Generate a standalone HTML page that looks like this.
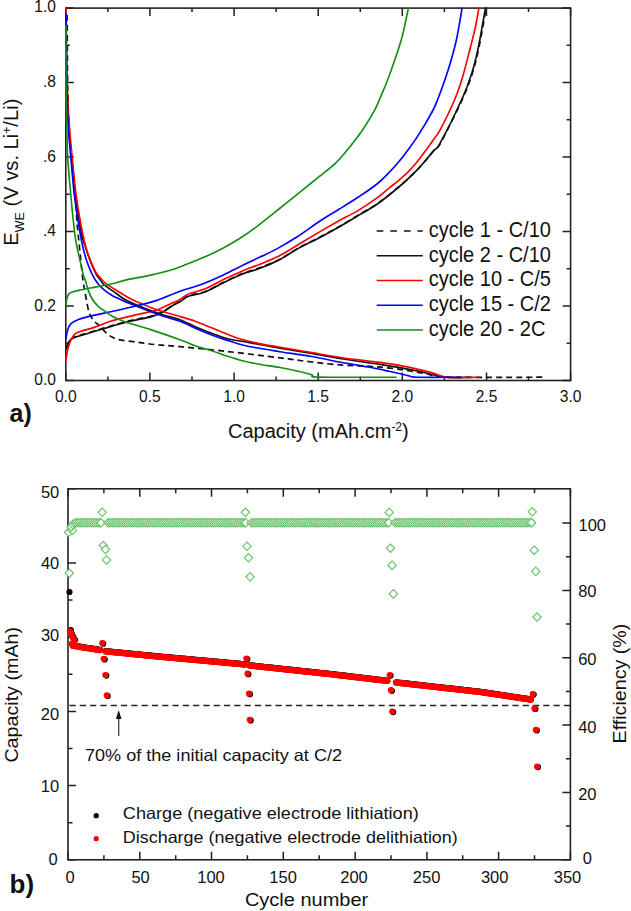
<!DOCTYPE html>
<html><head><meta charset="utf-8"><style>
html,body{margin:0;padding:0;background:#fff;}
body{width:631px;height:911px;overflow:hidden;font-family:"Liberation Sans",sans-serif;}
svg{display:block;}
</style></head><body>
<svg width="631" height="911" viewBox="0 0 631 911">
<rect x="65.8" y="8.1" width="504.8" height="372.4" fill="none" stroke="#222" stroke-width="1.6"/>
<path d="M65.8,8.1 v8 M65.8,380.5 v-8 M107.9,8.1 v4 M107.9,380.5 v-4 M149.9,8.1 v8 M149.9,380.5 v-8 M192.0,8.1 v4 M192.0,380.5 v-4 M234.1,8.1 v8 M234.1,380.5 v-8 M276.1,8.1 v4 M276.1,380.5 v-4 M318.2,8.1 v8 M318.2,380.5 v-8 M360.3,8.1 v4 M360.3,380.5 v-4 M402.3,8.1 v8 M402.3,380.5 v-8 M444.4,8.1 v4 M444.4,380.5 v-4 M486.5,8.1 v8 M486.5,380.5 v-8 M528.5,8.1 v4 M528.5,380.5 v-4 M570.6,8.1 v8 M570.6,380.5 v-8 M65.8,380.5 h8 M570.6,380.5 h-8 M65.8,343.3 h4 M570.6,343.3 h-4 M65.8,306.0 h8 M570.6,306.0 h-8 M65.8,268.8 h4 M570.6,268.8 h-4 M65.8,231.5 h8 M570.6,231.5 h-8 M65.8,194.3 h4 M570.6,194.3 h-4 M65.8,157.1 h8 M570.6,157.1 h-8 M65.8,119.8 h4 M570.6,119.8 h-4 M65.8,82.6 h8 M570.6,82.6 h-8 M65.8,45.3 h4 M570.6,45.3 h-4 M65.8,8.1 h8 M570.6,8.1 h-8" stroke="#222" stroke-width="1.5" fill="none"/>
<rect x="68.0" y="488.8" width="502.4" height="370.99999999999994" fill="none" stroke="#222" stroke-width="1.6"/>
<path d="M68.0,488.8 v8 M68.0,859.8 v-8 M103.9,488.8 v4.5 M103.9,859.8 v-4.5 M139.8,488.8 v8 M139.8,859.8 v-8 M175.7,488.8 v4.5 M175.7,859.8 v-4.5 M211.5,488.8 v8 M211.5,859.8 v-8 M247.4,488.8 v4.5 M247.4,859.8 v-4.5 M283.3,488.8 v8 M283.3,859.8 v-8 M319.2,488.8 v4.5 M319.2,859.8 v-4.5 M355.1,488.8 v8 M355.1,859.8 v-8 M391.0,488.8 v4.5 M391.0,859.8 v-4.5 M426.9,488.8 v8 M426.9,859.8 v-8 M462.7,488.8 v4.5 M462.7,859.8 v-4.5 M498.6,488.8 v8 M498.6,859.8 v-8 M534.5,488.8 v4.5 M534.5,859.8 v-4.5 M570.4,488.8 v8 M570.4,859.8 v-8 M68.0,859.8 h8 M68.0,822.7 h4.5 M68.0,785.6 h8 M68.0,748.5 h4.5 M68.0,711.4 h8 M68.0,674.3 h4.5 M68.0,637.2 h8 M68.0,600.1 h4.5 M68.0,563.0 h8 M68.0,525.9 h4.5 M68.0,488.8 h8 M570.4,859.8 h-8 M570.4,826.1 h-4.5 M570.4,792.4 h-8 M570.4,758.8 h-4.5 M570.4,725.1 h-8 M570.4,691.4 h-4.5 M570.4,657.7 h-8 M570.4,624.0 h-4.5 M570.4,590.4 h-8 M570.4,556.7 h-4.5 M570.4,523.0 h-8" stroke="#222" stroke-width="1.5" fill="none"/>
<path d="M67.2,15.0 C67.2,22.5 67.3,45.8 67.4,60.0 C67.5,74.2 67.7,88.3 68.0,100.0 C68.3,111.7 68.5,120.5 69.2,130.0 C69.9,139.5 71.0,146.2 72.0,157.0 C73.0,167.8 74.7,184.5 75.5,195.0 C76.3,205.5 76.4,213.7 76.8,220.0 C77.2,226.3 77.6,228.5 78.0,232.7 C78.4,236.9 78.9,241.2 79.3,245.4 C79.7,249.6 80.0,252.1 80.6,258.0 C81.2,263.9 82.2,274.6 83.1,280.9 C83.9,287.2 84.7,290.9 85.7,296.0 C86.7,301.1 87.6,307.7 88.9,311.8 C90.2,315.9 91.9,318.2 93.8,320.6 C95.7,323.1 98.4,324.5 100.4,326.5 C102.4,328.5 104.0,330.9 105.9,332.6 C107.8,334.4 109.8,335.8 112.0,337.0 C114.2,338.2 114.7,338.8 119.0,339.7 C123.3,340.6 131.7,341.4 138.0,342.3 C144.3,343.2 150.0,344.1 157.0,344.8 C164.0,345.5 168.2,345.6 180.0,346.7 C191.8,347.8 210.8,349.6 227.5,351.5 C244.2,353.4 266.0,356.1 280.0,357.8 C294.0,359.6 301.1,360.8 311.7,362.0 C322.3,363.2 333.7,364.5 343.4,365.2 C353.1,365.9 360.8,365.6 370.0,366.3 C379.2,367.0 389.0,367.9 398.5,369.2 C408.0,370.5 419.1,372.7 427.0,374.0 C434.9,375.3 426.3,376.7 446.0,377.2 C465.7,377.7 528.8,377.2 545.4,377.2" fill="none" stroke="#111111" stroke-width="1.7" stroke-linejoin="round" stroke-dasharray="6,4"/>
<path d="M66.8,348.7 C67.2,347.4 68.2,343.1 69.4,341.2 C70.6,339.3 72.2,338.1 73.8,337.2 C75.4,336.2 76.5,336.3 79.2,335.5 C81.9,334.7 86.6,333.3 90.2,332.2 C93.8,331.1 97.0,330.1 100.8,329.0 C104.6,327.9 107.5,326.9 112.8,325.4 C118.1,323.9 126.0,321.6 132.5,320.1 C138.9,318.5 146.4,317.5 151.5,316.1 C156.6,314.7 159.2,313.5 162.8,311.7 C166.4,309.9 169.8,307.0 172.8,305.2 C175.8,303.4 178.1,302.5 180.8,300.9 C183.6,299.3 185.2,297.1 189.3,295.5 C193.4,293.9 199.4,293.8 205.2,291.5 C211.0,289.2 217.9,285.0 224.2,282.0 C230.5,279.0 237.1,275.7 243.2,273.3 C249.3,270.9 254.7,269.8 260.8,267.4 C266.9,265.0 273.5,262.5 279.8,259.2 C286.1,255.9 292.0,251.6 298.8,247.8 C305.6,244.0 314.0,240.2 320.8,236.6 C327.6,233.0 333.5,229.8 339.8,226.2 C346.1,222.6 352.5,218.6 358.8,214.8 C365.1,211.0 370.8,208.3 377.8,203.4 C384.8,198.5 394.2,190.8 400.8,185.2 C407.4,179.6 413.0,174.0 417.2,169.8 C421.4,165.6 423.0,163.6 425.9,160.2 C428.8,156.8 432.2,152.5 434.7,149.6 C437.2,146.7 436.2,151.0 440.8,142.6 C445.4,134.2 457.1,111.0 462.4,99.2 C467.7,87.5 469.9,80.9 472.7,72.1 C475.5,63.4 476.8,57.6 479.1,46.7 C481.4,35.8 485.1,13.5 486.3,6.8" fill="none" stroke="#111111" stroke-width="1.7" stroke-linejoin="round" stroke-dasharray="6,4"/>
<path d="M66.2,8.0 C66.2,13.3 66.2,28.0 66.3,40.0 C66.4,52.0 66.6,68.3 66.9,80.0 C67.2,91.7 67.7,101.7 68.0,110.0 C68.3,118.3 68.4,122.2 69.0,130.0 C69.6,137.8 70.4,146.2 71.5,157.0 C72.6,167.8 73.9,182.4 75.5,195.0 C77.1,207.6 79.6,224.3 81.2,232.7 C82.8,241.1 83.5,240.8 85.0,245.4 C86.5,250.1 88.2,255.8 90.1,260.6 C92.0,265.5 94.8,271.4 96.4,274.5 C98.1,277.6 98.7,277.8 100.0,279.5 C101.3,281.2 101.9,282.8 104.0,284.7 C106.1,286.6 109.1,288.4 112.7,290.9 C116.3,293.4 121.2,297.4 125.4,299.8 C129.6,302.2 133.8,303.7 138.0,305.5 C142.2,307.3 146.5,309.0 150.7,310.6 C154.9,312.2 158.5,313.5 163.4,315.0 C168.3,316.5 174.6,317.8 180.0,319.8 C185.4,321.8 190.5,324.6 195.8,326.9 C201.1,329.1 206.4,331.3 211.7,333.3 C217.0,335.3 222.2,337.4 227.5,338.8 C232.8,340.2 238.1,340.6 243.4,341.5 C248.7,342.4 253.1,343.3 259.2,344.4 C265.3,345.5 271.2,346.8 280.0,348.3 C288.8,349.8 301.1,351.7 311.7,353.5 C322.3,355.3 332.0,357.2 343.4,359.0 C354.8,360.8 367.6,362.4 380.0,364.4 C392.4,366.4 406.7,368.9 417.5,371.0 C428.3,373.1 436.2,376.2 445.0,377.2 C453.8,378.2 465.8,377.2 470.0,377.2" fill="none" stroke="#111111" stroke-width="1.65" stroke-linejoin="round"/>
<path d="M66.0,349.5 C66.4,348.2 67.4,343.9 68.6,342.0 C69.8,340.1 71.4,338.9 73.0,338.0 C74.6,337.1 75.7,337.1 78.4,336.3 C81.1,335.5 85.8,334.1 89.4,333.0 C93.0,331.9 96.2,330.9 100.0,329.8 C103.8,328.7 106.7,327.7 112.0,326.2 C117.3,324.7 125.2,322.4 131.7,320.9 C138.1,319.3 145.6,318.3 150.7,316.9 C155.8,315.5 158.4,314.3 162.0,312.5 C165.6,310.7 169.0,307.8 172.0,306.0 C175.0,304.2 177.2,303.3 180.0,301.7 C182.8,300.1 184.4,297.9 188.5,296.3 C192.6,294.7 198.6,294.6 204.4,292.3 C210.2,290.1 217.1,285.8 223.4,282.8 C229.7,279.8 236.3,276.5 242.4,274.1 C248.5,271.7 253.9,270.6 260.0,268.2 C266.1,265.8 272.7,263.3 279.0,260.0 C285.3,256.7 291.2,252.4 298.0,248.6 C304.8,244.8 313.2,241.0 320.0,237.4 C326.8,233.8 332.7,230.6 339.0,227.0 C345.3,223.4 351.7,219.4 358.0,215.6 C364.3,211.8 370.0,209.1 377.0,204.2 C384.0,199.3 393.4,191.6 400.0,186.0 C406.6,180.4 412.2,174.8 416.4,170.6 C420.6,166.4 422.2,164.4 425.1,161.0 C428.0,157.6 431.4,153.3 433.9,150.4 C436.4,147.5 435.4,151.8 440.0,143.4 C444.6,135.0 456.3,111.8 461.6,100.0 C466.9,88.2 469.1,81.7 471.9,72.9 C474.7,64.2 476.0,58.4 478.3,47.5 C480.6,36.6 484.3,14.2 485.5,7.6" fill="none" stroke="#111111" stroke-width="1.65" stroke-linejoin="round"/>
<path d="M66.2,8.0 C66.2,13.3 66.2,28.0 66.3,40.0 C66.4,52.0 66.7,68.3 67.0,80.0 C67.3,91.7 67.8,101.7 68.3,110.0 C68.8,118.3 69.1,122.2 69.7,130.0 C70.3,137.8 71.0,146.1 72.1,156.9 C73.2,167.7 74.4,182.2 76.1,194.8 C77.8,207.4 80.7,223.5 82.5,232.7 C84.3,241.9 85.3,245.1 86.7,250.0 C88.1,254.9 89.6,258.2 91.1,261.9 C92.6,265.6 93.9,269.2 95.8,272.2 C97.7,275.2 100.2,278.0 102.2,280.1 C104.2,282.2 104.8,282.9 107.7,284.9 C110.6,286.9 115.9,289.9 119.6,292.2 C123.3,294.5 126.9,296.8 130.0,298.5 C133.1,300.2 134.6,300.8 138.0,302.3 C141.4,303.8 146.5,305.8 150.7,307.4 C154.9,309.0 158.5,310.3 163.4,311.8 C168.3,313.3 174.6,314.9 180.0,316.5 C185.4,318.1 190.5,319.6 195.8,321.5 C201.1,323.4 206.4,325.7 211.7,327.8 C217.0,329.9 222.8,332.3 227.5,334.2 C232.2,336.1 234.9,337.4 240.2,339.0 C245.5,340.6 252.6,342.2 259.2,343.6 C265.8,345.0 271.2,345.7 280.0,347.2 C288.8,348.7 301.1,350.7 311.7,352.5 C322.3,354.3 332.0,356.4 343.4,358.0 C354.8,359.6 369.1,360.9 380.0,362.4 C390.9,363.9 399.9,365.4 408.5,367.1 C417.1,368.8 424.9,370.9 431.3,372.6 C437.7,374.3 439.1,376.4 447.0,377.2 C454.9,378.0 473.2,377.2 478.4,377.2" fill="none" stroke="#ff0000" stroke-width="1.65" stroke-linejoin="round"/>
<path d="M65.8,361.1 C66.1,359.3 66.7,353.7 67.5,350.2 C68.3,346.7 69.5,343.1 70.8,340.3 C72.1,337.6 73.0,335.4 75.2,333.7 C77.4,332.0 80.6,331.5 83.9,330.4 C87.2,329.3 90.2,328.7 94.9,327.1 C99.6,325.5 104.8,322.9 112.0,320.8 C119.2,318.7 130.5,316.2 138.0,314.4 C145.5,312.6 151.7,311.7 157.0,310.0 C162.3,308.3 165.9,305.9 169.7,304.2 C173.5,302.4 176.9,301.2 180.0,299.5 C183.1,297.8 184.4,295.6 188.5,293.9 C192.6,292.2 198.6,291.5 204.4,289.1 C210.2,286.7 217.1,282.6 223.4,279.6 C229.7,276.6 236.3,273.5 242.4,270.9 C248.5,268.3 253.9,266.7 260.0,264.2 C266.1,261.7 272.7,259.4 279.0,256.1 C285.3,252.9 291.2,248.8 298.0,244.7 C304.8,240.6 313.2,235.6 320.0,231.6 C326.8,227.6 332.7,224.2 339.0,220.7 C345.3,217.2 351.7,214.4 358.0,210.6 C364.3,206.8 371.7,201.8 377.0,197.9 C382.3,194.0 386.4,190.2 390.0,187.3 C393.6,184.4 395.9,182.8 398.8,180.3 C401.7,177.8 404.7,175.3 407.6,172.4 C410.5,169.5 413.5,166.2 416.4,162.7 C419.3,159.2 422.2,155.2 425.1,151.3 C428.0,147.4 431.4,142.5 433.9,139.0 C436.4,135.5 436.6,136.7 440.0,130.2 C443.4,123.7 450.8,108.8 454.5,100.0 C458.2,91.2 460.0,85.4 462.4,77.7 C464.8,70.0 466.6,62.1 468.7,53.9 C470.8,45.7 473.4,36.2 475.1,28.5 C476.8,20.8 478.4,11.1 479.0,7.6" fill="none" stroke="#ff0000" stroke-width="1.65" stroke-linejoin="round"/>
<path d="M66.0,13.0 C66.0,17.5 66.0,28.8 66.1,40.0 C66.2,51.2 66.4,68.3 66.6,80.0 C66.8,91.7 67.2,101.7 67.5,110.0 C67.8,118.3 67.9,122.2 68.4,130.0 C69.0,137.8 69.8,146.1 70.8,156.9 C71.8,167.7 72.8,182.2 74.3,194.8 C75.8,207.4 78.5,223.5 80.0,232.7 C81.5,241.9 82.4,245.1 83.6,250.0 C84.8,254.9 85.7,257.9 87.1,261.9 C88.5,265.9 90.1,270.1 91.9,273.8 C93.8,277.5 96.2,281.5 98.2,284.1 C100.2,286.7 101.5,287.8 103.8,289.6 C106.0,291.5 109.1,293.6 111.7,295.2 C114.3,296.8 117.0,297.9 119.6,299.1 C122.1,300.3 123.9,301.2 127.0,302.5 C130.1,303.8 134.1,305.2 138.0,306.8 C141.9,308.4 146.5,310.2 150.7,311.8 C154.9,313.4 158.5,314.7 163.4,316.3 C168.3,317.9 174.6,319.3 180.0,321.3 C185.4,323.3 190.5,326.2 195.8,328.5 C201.1,330.8 206.4,332.9 211.7,334.9 C217.0,336.9 222.2,338.7 227.5,340.4 C232.8,342.1 238.1,343.9 243.4,345.2 C248.7,346.5 253.1,347.2 259.2,348.3 C265.3,349.4 271.2,350.3 280.0,351.7 C288.8,353.1 301.1,354.6 311.7,356.5 C322.3,358.4 333.7,361.0 343.4,362.8 C353.1,364.6 362.4,365.9 370.0,367.3 C377.6,368.7 382.7,369.9 389.0,371.3 C395.3,372.7 403.3,374.6 408.0,375.6 C412.7,376.6 408.1,376.9 417.0,377.2 C425.9,377.5 453.9,377.2 461.3,377.2" fill="none" stroke="#0000ff" stroke-width="1.65" stroke-linejoin="round"/>
<path d="M65.8,339.2 C66.1,337.7 66.7,332.9 67.5,330.4 C68.3,327.8 69.0,325.7 70.8,323.9 C72.6,322.1 74.4,321.0 78.4,319.5 C82.4,318.0 89.3,316.4 94.9,315.1 C100.5,313.8 104.8,313.1 112.0,311.5 C119.2,309.9 130.5,307.4 138.0,305.5 C145.5,303.6 150.0,302.8 157.0,300.4 C164.0,298.0 172.6,294.0 180.0,291.3 C187.4,288.6 194.0,287.1 201.2,284.4 C208.4,281.7 216.5,278.1 223.4,274.9 C230.3,271.7 236.3,268.4 242.4,265.4 C248.5,262.4 253.9,260.1 260.0,257.1 C266.1,254.1 272.7,251.1 279.0,247.6 C285.3,244.1 291.2,240.6 298.0,236.2 C304.8,231.8 313.2,225.5 320.0,221.0 C326.8,216.5 332.7,213.2 339.0,209.3 C345.3,205.4 351.7,201.5 358.0,197.3 C364.3,193.1 371.7,188.3 377.0,184.0 C382.3,179.7 386.4,175.2 390.0,171.5 C393.6,167.8 395.9,165.3 398.8,161.8 C401.7,158.3 404.7,154.4 407.6,150.4 C410.5,146.4 413.5,142.5 416.4,138.1 C419.3,133.7 422.3,128.8 425.1,124.1 C427.9,119.4 431.0,114.0 433.1,110.0 C435.2,106.0 435.8,104.3 437.5,100.0 C439.2,95.7 441.4,89.8 443.4,84.0 C445.4,78.2 447.6,72.1 449.7,65.0 C451.8,57.9 454.4,48.6 456.1,41.2 C457.8,33.8 459.0,26.2 460.0,20.6 C461.0,15.0 461.8,9.8 462.1,7.6" fill="none" stroke="#0000ff" stroke-width="1.65" stroke-linejoin="round"/>
<path d="M66.0,25.0 C66.0,34.2 65.9,65.8 66.0,80.0 C66.1,94.2 66.2,101.7 66.4,110.0 C66.6,118.3 66.7,122.2 66.9,130.0 C67.1,137.8 67.1,146.1 67.7,156.9 C68.3,167.7 69.9,184.3 70.8,194.8 C71.7,205.3 72.4,212.6 73.2,220.0 C74.0,227.4 74.5,232.7 75.5,239.0 C76.5,245.3 78.2,252.1 79.5,258.0 C80.8,263.9 82.2,270.8 83.2,274.5 C84.2,278.2 84.4,277.5 85.2,280.0 C86.0,282.5 86.8,286.4 88.0,289.6 C89.2,292.9 90.8,296.7 92.5,299.5 C94.2,302.3 96.0,304.2 98.2,306.3 C100.4,308.4 103.5,310.1 105.9,311.8 C108.3,313.5 109.5,314.8 112.7,316.5 C116.0,318.2 119.1,319.8 125.4,322.0 C131.7,324.2 141.6,326.7 150.7,329.6 C159.8,332.6 172.5,337.0 180.0,339.7 C187.5,342.4 190.5,344.2 195.8,346.0 C201.1,347.8 206.4,349.0 211.7,350.7 C217.0,352.4 222.2,354.6 227.5,356.3 C232.8,358.0 238.1,359.7 243.4,361.0 C248.7,362.3 253.1,363.1 259.2,364.2 C265.3,365.3 273.9,366.4 280.0,367.5 C286.1,368.6 290.5,369.5 295.8,370.7 C301.1,371.9 307.7,373.6 311.7,374.7 C315.7,375.8 305.5,376.7 319.6,377.1 C333.8,377.5 383.8,377.2 396.6,377.2" fill="none" stroke="#148f14" stroke-width="1.65" stroke-linejoin="round"/>
<path d="M65.8,306.5 C66.0,305.2 66.2,300.8 66.9,298.6 C67.6,296.4 67.8,294.6 69.7,293.2 C71.6,291.8 74.2,291.4 78.4,290.4 C82.6,289.4 89.3,288.2 94.9,287.1 C100.5,286.0 106.9,285.0 112.0,283.8 C117.1,282.6 119.0,281.6 125.4,280.1 C131.8,278.7 143.1,276.8 150.7,275.1 C158.3,273.4 165.5,271.6 171.0,270.0 C176.5,268.4 177.7,267.8 183.8,265.4 C189.9,263.0 200.9,258.7 207.5,255.8 C214.1,252.9 218.0,250.8 223.4,247.9 C228.8,245.0 234.6,241.6 240.0,238.2 C245.4,234.8 250.5,231.2 255.8,227.3 C261.1,223.4 266.4,219.0 271.7,214.8 C277.0,210.6 282.2,206.4 287.5,202.2 C292.8,198.0 298.1,193.7 303.4,189.4 C308.7,185.1 313.9,180.9 319.2,176.6 C324.5,172.3 330.7,167.7 335.1,163.6 C339.5,159.5 341.4,157.2 345.8,151.8 C350.2,146.4 356.9,138.1 361.7,131.2 C366.5,124.3 371.3,116.1 374.4,110.6 C377.4,105.1 377.8,103.5 380.0,98.3 C382.2,93.1 385.3,86.1 387.9,79.2 C390.5,72.3 393.4,64.2 395.8,57.1 C398.2,50.0 400.5,42.9 402.2,36.5 C403.9,30.1 405.1,23.8 406.1,19.0 C407.2,14.2 408.1,9.5 408.5,7.6" fill="none" stroke="#148f14" stroke-width="1.65" stroke-linejoin="round"/>
<text x="65.8" y="402.1" transform="matrix(1,0,0,1.07,0,-28.15)" font-family="Liberation Sans, sans-serif" font-size="15.6" text-anchor="middle" fill="#111">0.0</text>
<text x="149.9" y="402.1" transform="matrix(1,0,0,1.07,0,-28.15)" font-family="Liberation Sans, sans-serif" font-size="15.6" text-anchor="middle" fill="#111">0.5</text>
<text x="234.1" y="402.1" transform="matrix(1,0,0,1.07,0,-28.15)" font-family="Liberation Sans, sans-serif" font-size="15.6" text-anchor="middle" fill="#111">1.0</text>
<text x="318.2" y="402.1" transform="matrix(1,0,0,1.07,0,-28.15)" font-family="Liberation Sans, sans-serif" font-size="15.6" text-anchor="middle" fill="#111">1.5</text>
<text x="402.3" y="402.1" transform="matrix(1,0,0,1.07,0,-28.15)" font-family="Liberation Sans, sans-serif" font-size="15.6" text-anchor="middle" fill="#111">2.0</text>
<text x="486.5" y="402.1" transform="matrix(1,0,0,1.07,0,-28.15)" font-family="Liberation Sans, sans-serif" font-size="15.6" text-anchor="middle" fill="#111">2.5</text>
<text x="570.6" y="402.1" transform="matrix(1,0,0,1.07,0,-28.15)" font-family="Liberation Sans, sans-serif" font-size="15.6" text-anchor="middle" fill="#111">3.0</text>
<text x="56" y="385.4" transform="matrix(1,0,0,1.07,0,-26.98)" font-family="Liberation Sans, sans-serif" font-size="15.6" text-anchor="end" fill="#111">0.0</text>
<text x="56" y="311.1" transform="matrix(1,0,0,1.07,0,-21.78)" font-family="Liberation Sans, sans-serif" font-size="15.6" text-anchor="end" fill="#111">0.2</text>
<text x="56" y="235.8" transform="matrix(1,0,0,1.07,0,-16.51)" font-family="Liberation Sans, sans-serif" font-size="15.6" text-anchor="end" fill="#111">.4</text>
<text x="56" y="161.8" transform="matrix(1,0,0,1.07,0,-11.33)" font-family="Liberation Sans, sans-serif" font-size="15.6" text-anchor="end" fill="#111">.6</text>
<text x="56" y="86.8" transform="matrix(1,0,0,1.07,0,-6.08)" font-family="Liberation Sans, sans-serif" font-size="15.6" text-anchor="end" fill="#111">.8</text>
<text x="56" y="12.2" transform="matrix(1,0,0,1.07,0,-0.85)" font-family="Liberation Sans, sans-serif" font-size="15.6" text-anchor="end" fill="#111">1.0</text>
<text x="228" y="437.5" font-family="Liberation Sans, sans-serif" font-size="20" fill="#111">Capacity (mAh.cm<tspan font-size="12" dy="-7">-2</tspan><tspan dy="7">)</tspan></text>
<g transform="translate(17.6,245.8) rotate(-90)"><text x="0" y="0" font-family="Liberation Sans, sans-serif" font-size="20.2" fill="#111">E<tspan font-size="12.5" dy="6.5">WE</tspan><tspan dy="-6.5"> (V vs. Li</tspan><tspan font-size="12" dy="-7">+</tspan><tspan dy="7">/Li)</tspan></text></g>
<text x="9.5" y="421.8" font-family="Liberation Sans, sans-serif" font-size="25" font-weight="bold" fill="#111">a)</text>
<path d="M376.7,231.0 H422.8" stroke="#111111" stroke-width="1.45" stroke-dasharray="6.6,7"/>
<text x="428.7" y="236.9" transform="matrix(1,0,0,1.07,0,-16.58)" font-family="Liberation Sans, sans-serif" font-size="20" fill="#111">cycle 1 - C/10</text>
<path d="M376.7,255.8 H422.8" stroke="#111111" stroke-width="1.45"/>
<text x="428.7" y="261.6" transform="matrix(1,0,0,1.07,0,-18.32)" font-family="Liberation Sans, sans-serif" font-size="20" fill="#111">cycle 2 - C/10</text>
<path d="M376.7,280.5 H422.8" stroke="#ff0000" stroke-width="1.45"/>
<text x="428.7" y="286.4" transform="matrix(1,0,0,1.07,0,-20.05)" font-family="Liberation Sans, sans-serif" font-size="20" fill="#111">cycle 10 - C/5</text>
<path d="M376.7,305.2 H422.8" stroke="#0000ff" stroke-width="1.45"/>
<text x="428.7" y="311.1" transform="matrix(1,0,0,1.07,0,-21.78)" font-family="Liberation Sans, sans-serif" font-size="20" fill="#111">cycle 15 - C/2</text>
<path d="M376.7,330.0 H422.8" stroke="#148f14" stroke-width="1.45"/>
<text x="428.7" y="335.9" transform="matrix(1,0,0,1.07,0,-23.51)" font-family="Liberation Sans, sans-serif" font-size="20" fill="#111">cycle 20 - 2C</text>
<g fill="#fff" stroke="#6ac46a" stroke-width="1.2"><path d="M69.3,569.0 L73.5,573.2 L69.3,577.4 L65.1,573.2 Z"/><path d="M68.6,528.1 L72.8,532.3 L68.6,536.5 L64.4,532.3 Z"/><path d="M72.4,526.2 L76.6,530.4 L72.4,534.6 L68.2,530.4 Z"/><path d="M71.2,522.8 L75.4,527.0 L71.2,531.2 L67.0,527.0 Z"/><path d="M72.8,520.4 L77.0,524.6 L72.8,528.8 L68.6,524.6 Z"/><path d="M74.4,519.1 L78.6,523.3 L74.4,527.5 L70.2,523.3 Z"/><path d="M76.0,518.5 L80.2,522.7 L76.0,526.9 L71.8,522.7 Z"/><path d="M78.2,518.5 L82.4,522.7 L78.2,526.9 L74.0,522.7 Z"/><path d="M80.4,518.5 L84.6,522.7 L80.4,526.9 L76.2,522.7 Z"/><path d="M82.6,518.5 L86.8,522.7 L82.6,526.9 L78.4,522.7 Z"/><path d="M84.8,518.5 L89.0,522.7 L84.8,526.9 L80.6,522.7 Z"/><path d="M87.0,518.5 L91.2,522.7 L87.0,526.9 L82.8,522.7 Z"/><path d="M89.2,518.5 L93.4,522.7 L89.2,526.9 L85.0,522.7 Z"/><path d="M91.4,518.5 L95.6,522.7 L91.4,526.9 L87.2,522.7 Z"/><path d="M93.6,518.5 L97.8,522.7 L93.6,526.9 L89.4,522.7 Z"/><path d="M95.8,518.5 L100.0,522.7 L95.8,526.9 L91.6,522.7 Z"/><path d="M98.0,518.5 L102.2,522.7 L98.0,526.9 L93.8,522.7 Z"/><path d="M100.2,518.5 L104.4,522.7 L100.2,526.9 L96.0,522.7 Z"/><path d="M101.0,518.6 L105.2,522.8 L101.0,527.0 L96.8,522.8 Z"/><path d="M102.2,508.1 L106.4,512.3 L102.2,516.5 L98.0,512.3 Z"/><path d="M103.3,541.3 L107.5,545.5 L103.3,549.7 L99.1,545.5 Z"/><path d="M105.5,545.3 L109.7,549.5 L105.5,553.7 L101.3,549.5 Z"/><path d="M106.6,555.7 L110.8,559.9 L106.6,564.1 L102.4,559.9 Z"/><path d="M108.0,518.5 L112.2,522.7 L108.0,526.9 L103.8,522.7 Z"/><path d="M110.2,518.5 L114.4,522.7 L110.2,526.9 L106.0,522.7 Z"/><path d="M112.4,518.5 L116.6,522.7 L112.4,526.9 L108.2,522.7 Z"/><path d="M114.6,518.5 L118.8,522.7 L114.6,526.9 L110.4,522.7 Z"/><path d="M116.8,518.5 L121.0,522.7 L116.8,526.9 L112.6,522.7 Z"/><path d="M119.0,518.5 L123.2,522.7 L119.0,526.9 L114.8,522.7 Z"/><path d="M121.2,518.5 L125.4,522.7 L121.2,526.9 L117.0,522.7 Z"/><path d="M123.4,518.5 L127.6,522.7 L123.4,526.9 L119.2,522.7 Z"/><path d="M125.6,518.5 L129.8,522.7 L125.6,526.9 L121.4,522.7 Z"/><path d="M127.8,518.5 L132.0,522.7 L127.8,526.9 L123.6,522.7 Z"/><path d="M130.0,518.5 L134.2,522.7 L130.0,526.9 L125.8,522.7 Z"/><path d="M132.2,518.5 L136.4,522.7 L132.2,526.9 L128.0,522.7 Z"/><path d="M134.4,518.5 L138.6,522.7 L134.4,526.9 L130.2,522.7 Z"/><path d="M136.6,518.5 L140.8,522.7 L136.6,526.9 L132.4,522.7 Z"/><path d="M138.8,518.5 L143.0,522.7 L138.8,526.9 L134.6,522.7 Z"/><path d="M141.0,518.5 L145.2,522.7 L141.0,526.9 L136.8,522.7 Z"/><path d="M143.2,518.5 L147.4,522.7 L143.2,526.9 L139.0,522.7 Z"/><path d="M145.4,518.5 L149.6,522.7 L145.4,526.9 L141.2,522.7 Z"/><path d="M147.6,518.5 L151.8,522.7 L147.6,526.9 L143.4,522.7 Z"/><path d="M149.8,518.5 L154.0,522.7 L149.8,526.9 L145.6,522.7 Z"/><path d="M152.0,518.5 L156.2,522.7 L152.0,526.9 L147.8,522.7 Z"/><path d="M154.2,518.5 L158.4,522.7 L154.2,526.9 L150.0,522.7 Z"/><path d="M156.4,518.5 L160.6,522.7 L156.4,526.9 L152.2,522.7 Z"/><path d="M158.6,518.5 L162.8,522.7 L158.6,526.9 L154.4,522.7 Z"/><path d="M160.8,518.5 L165.0,522.7 L160.8,526.9 L156.6,522.7 Z"/><path d="M163.0,518.5 L167.2,522.7 L163.0,526.9 L158.8,522.7 Z"/><path d="M165.2,518.5 L169.4,522.7 L165.2,526.9 L161.0,522.7 Z"/><path d="M167.4,518.5 L171.6,522.7 L167.4,526.9 L163.2,522.7 Z"/><path d="M169.6,518.5 L173.8,522.7 L169.6,526.9 L165.4,522.7 Z"/><path d="M171.8,518.5 L176.0,522.7 L171.8,526.9 L167.6,522.7 Z"/><path d="M174.0,518.5 L178.2,522.7 L174.0,526.9 L169.8,522.7 Z"/><path d="M176.2,518.5 L180.4,522.7 L176.2,526.9 L172.0,522.7 Z"/><path d="M178.4,518.5 L182.6,522.7 L178.4,526.9 L174.2,522.7 Z"/><path d="M180.6,518.5 L184.8,522.7 L180.6,526.9 L176.4,522.7 Z"/><path d="M182.8,518.5 L187.0,522.7 L182.8,526.9 L178.6,522.7 Z"/><path d="M185.0,518.5 L189.2,522.7 L185.0,526.9 L180.8,522.7 Z"/><path d="M187.2,518.5 L191.4,522.7 L187.2,526.9 L183.0,522.7 Z"/><path d="M189.4,518.5 L193.6,522.7 L189.4,526.9 L185.2,522.7 Z"/><path d="M191.6,518.5 L195.8,522.7 L191.6,526.9 L187.4,522.7 Z"/><path d="M193.8,518.5 L198.0,522.7 L193.8,526.9 L189.6,522.7 Z"/><path d="M196.0,518.5 L200.2,522.7 L196.0,526.9 L191.8,522.7 Z"/><path d="M198.2,518.5 L202.4,522.7 L198.2,526.9 L194.0,522.7 Z"/><path d="M200.4,518.5 L204.6,522.7 L200.4,526.9 L196.2,522.7 Z"/><path d="M202.6,518.5 L206.8,522.7 L202.6,526.9 L198.4,522.7 Z"/><path d="M204.8,518.5 L209.0,522.7 L204.8,526.9 L200.6,522.7 Z"/><path d="M207.0,518.5 L211.2,522.7 L207.0,526.9 L202.8,522.7 Z"/><path d="M209.2,518.5 L213.4,522.7 L209.2,526.9 L205.0,522.7 Z"/><path d="M211.4,518.5 L215.6,522.7 L211.4,526.9 L207.2,522.7 Z"/><path d="M213.6,518.5 L217.8,522.7 L213.6,526.9 L209.4,522.7 Z"/><path d="M215.8,518.5 L220.0,522.7 L215.8,526.9 L211.6,522.7 Z"/><path d="M218.0,518.5 L222.2,522.7 L218.0,526.9 L213.8,522.7 Z"/><path d="M220.2,518.5 L224.4,522.7 L220.2,526.9 L216.0,522.7 Z"/><path d="M222.4,518.5 L226.6,522.7 L222.4,526.9 L218.2,522.7 Z"/><path d="M224.6,518.5 L228.8,522.7 L224.6,526.9 L220.4,522.7 Z"/><path d="M226.8,518.5 L231.0,522.7 L226.8,526.9 L222.6,522.7 Z"/><path d="M229.0,518.5 L233.2,522.7 L229.0,526.9 L224.8,522.7 Z"/><path d="M231.2,518.5 L235.4,522.7 L231.2,526.9 L227.0,522.7 Z"/><path d="M233.4,518.5 L237.6,522.7 L233.4,526.9 L229.2,522.7 Z"/><path d="M235.6,518.5 L239.8,522.7 L235.6,526.9 L231.4,522.7 Z"/><path d="M237.8,518.5 L242.0,522.7 L237.8,526.9 L233.6,522.7 Z"/><path d="M240.0,518.5 L244.2,522.7 L240.0,526.9 L235.8,522.7 Z"/><path d="M242.2,518.5 L246.4,522.7 L242.2,526.9 L238.0,522.7 Z"/><path d="M244.4,518.5 L248.6,522.7 L244.4,526.9 L240.2,522.7 Z"/><path d="M245.4,508.1 L249.6,512.3 L245.4,516.5 L241.2,512.3 Z"/><path d="M245.6,518.5 L249.8,522.7 L245.6,526.9 L241.4,522.7 Z"/><path d="M247.0,542.1 L251.2,546.3 L247.0,550.5 L242.8,546.3 Z"/><path d="M248.5,553.6 L252.7,557.8 L248.5,562.0 L244.3,557.8 Z"/><path d="M250.1,572.6 L254.3,576.8 L250.1,581.0 L245.9,576.8 Z"/><path d="M251.5,518.5 L255.7,522.7 L251.5,526.9 L247.3,522.7 Z"/><path d="M253.7,518.5 L257.9,522.7 L253.7,526.9 L249.5,522.7 Z"/><path d="M255.9,518.5 L260.1,522.7 L255.9,526.9 L251.7,522.7 Z"/><path d="M258.1,518.5 L262.3,522.7 L258.1,526.9 L253.9,522.7 Z"/><path d="M260.3,518.5 L264.5,522.7 L260.3,526.9 L256.1,522.7 Z"/><path d="M262.5,518.5 L266.7,522.7 L262.5,526.9 L258.3,522.7 Z"/><path d="M264.7,518.5 L268.9,522.7 L264.7,526.9 L260.5,522.7 Z"/><path d="M266.9,518.5 L271.1,522.7 L266.9,526.9 L262.7,522.7 Z"/><path d="M269.1,518.5 L273.3,522.7 L269.1,526.9 L264.9,522.7 Z"/><path d="M271.3,518.5 L275.5,522.7 L271.3,526.9 L267.1,522.7 Z"/><path d="M273.5,518.5 L277.7,522.7 L273.5,526.9 L269.3,522.7 Z"/><path d="M275.7,518.5 L279.9,522.7 L275.7,526.9 L271.5,522.7 Z"/><path d="M277.9,518.5 L282.1,522.7 L277.9,526.9 L273.7,522.7 Z"/><path d="M280.1,518.5 L284.3,522.7 L280.1,526.9 L275.9,522.7 Z"/><path d="M282.3,518.5 L286.5,522.7 L282.3,526.9 L278.1,522.7 Z"/><path d="M284.5,518.5 L288.7,522.7 L284.5,526.9 L280.3,522.7 Z"/><path d="M286.7,518.5 L290.9,522.7 L286.7,526.9 L282.5,522.7 Z"/><path d="M288.9,518.5 L293.1,522.7 L288.9,526.9 L284.7,522.7 Z"/><path d="M291.1,518.5 L295.3,522.7 L291.1,526.9 L286.9,522.7 Z"/><path d="M293.3,518.5 L297.5,522.7 L293.3,526.9 L289.1,522.7 Z"/><path d="M295.5,518.5 L299.7,522.7 L295.5,526.9 L291.3,522.7 Z"/><path d="M297.7,518.5 L301.9,522.7 L297.7,526.9 L293.5,522.7 Z"/><path d="M299.9,518.5 L304.1,522.7 L299.9,526.9 L295.7,522.7 Z"/><path d="M302.1,518.5 L306.3,522.7 L302.1,526.9 L297.9,522.7 Z"/><path d="M304.3,518.5 L308.5,522.7 L304.3,526.9 L300.1,522.7 Z"/><path d="M306.5,518.5 L310.7,522.7 L306.5,526.9 L302.3,522.7 Z"/><path d="M308.7,518.5 L312.9,522.7 L308.7,526.9 L304.5,522.7 Z"/><path d="M310.9,518.5 L315.1,522.7 L310.9,526.9 L306.7,522.7 Z"/><path d="M313.1,518.5 L317.3,522.7 L313.1,526.9 L308.9,522.7 Z"/><path d="M315.3,518.5 L319.5,522.7 L315.3,526.9 L311.1,522.7 Z"/><path d="M317.5,518.5 L321.7,522.7 L317.5,526.9 L313.3,522.7 Z"/><path d="M319.7,518.5 L323.9,522.7 L319.7,526.9 L315.5,522.7 Z"/><path d="M321.9,518.5 L326.1,522.7 L321.9,526.9 L317.7,522.7 Z"/><path d="M324.1,518.5 L328.3,522.7 L324.1,526.9 L319.9,522.7 Z"/><path d="M326.3,518.5 L330.5,522.7 L326.3,526.9 L322.1,522.7 Z"/><path d="M328.5,518.5 L332.7,522.7 L328.5,526.9 L324.3,522.7 Z"/><path d="M330.7,518.5 L334.9,522.7 L330.7,526.9 L326.5,522.7 Z"/><path d="M332.9,518.5 L337.1,522.7 L332.9,526.9 L328.7,522.7 Z"/><path d="M335.1,518.5 L339.3,522.7 L335.1,526.9 L330.9,522.7 Z"/><path d="M337.3,518.5 L341.5,522.7 L337.3,526.9 L333.1,522.7 Z"/><path d="M339.5,518.5 L343.7,522.7 L339.5,526.9 L335.3,522.7 Z"/><path d="M341.7,518.5 L345.9,522.7 L341.7,526.9 L337.5,522.7 Z"/><path d="M343.9,518.5 L348.1,522.7 L343.9,526.9 L339.7,522.7 Z"/><path d="M346.1,518.5 L350.3,522.7 L346.1,526.9 L341.9,522.7 Z"/><path d="M348.3,518.5 L352.5,522.7 L348.3,526.9 L344.1,522.7 Z"/><path d="M350.5,518.5 L354.7,522.7 L350.5,526.9 L346.3,522.7 Z"/><path d="M352.7,518.5 L356.9,522.7 L352.7,526.9 L348.5,522.7 Z"/><path d="M354.9,518.5 L359.1,522.7 L354.9,526.9 L350.7,522.7 Z"/><path d="M357.1,518.5 L361.3,522.7 L357.1,526.9 L352.9,522.7 Z"/><path d="M359.3,518.5 L363.5,522.7 L359.3,526.9 L355.1,522.7 Z"/><path d="M361.5,518.5 L365.7,522.7 L361.5,526.9 L357.3,522.7 Z"/><path d="M363.7,518.5 L367.9,522.7 L363.7,526.9 L359.5,522.7 Z"/><path d="M365.9,518.5 L370.1,522.7 L365.9,526.9 L361.7,522.7 Z"/><path d="M368.1,518.5 L372.3,522.7 L368.1,526.9 L363.9,522.7 Z"/><path d="M370.3,518.5 L374.5,522.7 L370.3,526.9 L366.1,522.7 Z"/><path d="M372.5,518.5 L376.7,522.7 L372.5,526.9 L368.3,522.7 Z"/><path d="M374.7,518.5 L378.9,522.7 L374.7,526.9 L370.5,522.7 Z"/><path d="M376.9,518.5 L381.1,522.7 L376.9,526.9 L372.7,522.7 Z"/><path d="M379.1,518.5 L383.3,522.7 L379.1,526.9 L374.9,522.7 Z"/><path d="M381.3,518.5 L385.5,522.7 L381.3,526.9 L377.1,522.7 Z"/><path d="M383.5,518.5 L387.7,522.7 L383.5,526.9 L379.3,522.7 Z"/><path d="M385.7,518.5 L389.9,522.7 L385.7,526.9 L381.5,522.7 Z"/><path d="M387.9,518.5 L392.1,522.7 L387.9,526.9 L383.7,522.7 Z"/><path d="M389.2,508.2 L393.4,512.4 L389.2,516.6 L385.0,512.4 Z"/><path d="M388.6,518.5 L392.8,522.7 L388.6,526.9 L384.4,522.7 Z"/><path d="M390.5,544.0 L394.7,548.2 L390.5,552.4 L386.3,548.2 Z"/><path d="M392.1,561.2 L396.3,565.4 L392.1,569.6 L387.9,565.4 Z"/><path d="M393.4,589.7 L397.6,593.9 L393.4,598.1 L389.2,593.9 Z"/><path d="M395.0,518.5 L399.2,522.7 L395.0,526.9 L390.8,522.7 Z"/><path d="M397.2,518.5 L401.4,522.7 L397.2,526.9 L393.0,522.7 Z"/><path d="M399.4,518.5 L403.6,522.7 L399.4,526.9 L395.2,522.7 Z"/><path d="M401.6,518.5 L405.8,522.7 L401.6,526.9 L397.4,522.7 Z"/><path d="M403.8,518.5 L408.0,522.7 L403.8,526.9 L399.6,522.7 Z"/><path d="M406.0,518.5 L410.2,522.7 L406.0,526.9 L401.8,522.7 Z"/><path d="M408.2,518.5 L412.4,522.7 L408.2,526.9 L404.0,522.7 Z"/><path d="M410.4,518.5 L414.6,522.7 L410.4,526.9 L406.2,522.7 Z"/><path d="M412.6,518.5 L416.8,522.7 L412.6,526.9 L408.4,522.7 Z"/><path d="M414.8,518.5 L419.0,522.7 L414.8,526.9 L410.6,522.7 Z"/><path d="M417.0,518.5 L421.2,522.7 L417.0,526.9 L412.8,522.7 Z"/><path d="M419.2,518.5 L423.4,522.7 L419.2,526.9 L415.0,522.7 Z"/><path d="M421.4,518.5 L425.6,522.7 L421.4,526.9 L417.2,522.7 Z"/><path d="M423.6,518.5 L427.8,522.7 L423.6,526.9 L419.4,522.7 Z"/><path d="M425.8,518.5 L430.0,522.7 L425.8,526.9 L421.6,522.7 Z"/><path d="M428.0,518.5 L432.2,522.7 L428.0,526.9 L423.8,522.7 Z"/><path d="M430.2,518.5 L434.4,522.7 L430.2,526.9 L426.0,522.7 Z"/><path d="M432.4,518.5 L436.6,522.7 L432.4,526.9 L428.2,522.7 Z"/><path d="M434.6,518.5 L438.8,522.7 L434.6,526.9 L430.4,522.7 Z"/><path d="M436.8,518.5 L441.0,522.7 L436.8,526.9 L432.6,522.7 Z"/><path d="M439.0,518.5 L443.2,522.7 L439.0,526.9 L434.8,522.7 Z"/><path d="M441.2,518.5 L445.4,522.7 L441.2,526.9 L437.0,522.7 Z"/><path d="M443.4,518.5 L447.6,522.7 L443.4,526.9 L439.2,522.7 Z"/><path d="M445.6,518.5 L449.8,522.7 L445.6,526.9 L441.4,522.7 Z"/><path d="M447.8,518.5 L452.0,522.7 L447.8,526.9 L443.6,522.7 Z"/><path d="M450.0,518.5 L454.2,522.7 L450.0,526.9 L445.8,522.7 Z"/><path d="M452.2,518.5 L456.4,522.7 L452.2,526.9 L448.0,522.7 Z"/><path d="M454.4,518.5 L458.6,522.7 L454.4,526.9 L450.2,522.7 Z"/><path d="M456.6,518.5 L460.8,522.7 L456.6,526.9 L452.4,522.7 Z"/><path d="M458.8,518.5 L463.0,522.7 L458.8,526.9 L454.6,522.7 Z"/><path d="M461.0,518.5 L465.2,522.7 L461.0,526.9 L456.8,522.7 Z"/><path d="M463.2,518.5 L467.4,522.7 L463.2,526.9 L459.0,522.7 Z"/><path d="M465.4,518.5 L469.6,522.7 L465.4,526.9 L461.2,522.7 Z"/><path d="M467.6,518.5 L471.8,522.7 L467.6,526.9 L463.4,522.7 Z"/><path d="M469.8,518.5 L474.0,522.7 L469.8,526.9 L465.6,522.7 Z"/><path d="M472.0,518.5 L476.2,522.7 L472.0,526.9 L467.8,522.7 Z"/><path d="M474.2,518.5 L478.4,522.7 L474.2,526.9 L470.0,522.7 Z"/><path d="M476.4,518.5 L480.6,522.7 L476.4,526.9 L472.2,522.7 Z"/><path d="M478.6,518.5 L482.8,522.7 L478.6,526.9 L474.4,522.7 Z"/><path d="M480.8,518.5 L485.0,522.7 L480.8,526.9 L476.6,522.7 Z"/><path d="M483.0,518.5 L487.2,522.7 L483.0,526.9 L478.8,522.7 Z"/><path d="M485.2,518.5 L489.4,522.7 L485.2,526.9 L481.0,522.7 Z"/><path d="M487.4,518.5 L491.6,522.7 L487.4,526.9 L483.2,522.7 Z"/><path d="M489.6,518.5 L493.8,522.7 L489.6,526.9 L485.4,522.7 Z"/><path d="M491.8,518.5 L496.0,522.7 L491.8,526.9 L487.6,522.7 Z"/><path d="M494.0,518.5 L498.2,522.7 L494.0,526.9 L489.8,522.7 Z"/><path d="M496.2,518.5 L500.4,522.7 L496.2,526.9 L492.0,522.7 Z"/><path d="M498.4,518.5 L502.6,522.7 L498.4,526.9 L494.2,522.7 Z"/><path d="M500.6,518.5 L504.8,522.7 L500.6,526.9 L496.4,522.7 Z"/><path d="M502.8,518.5 L507.0,522.7 L502.8,526.9 L498.6,522.7 Z"/><path d="M505.0,518.5 L509.2,522.7 L505.0,526.9 L500.8,522.7 Z"/><path d="M507.2,518.5 L511.4,522.7 L507.2,526.9 L503.0,522.7 Z"/><path d="M509.4,518.5 L513.6,522.7 L509.4,526.9 L505.2,522.7 Z"/><path d="M511.6,518.5 L515.8,522.7 L511.6,526.9 L507.4,522.7 Z"/><path d="M513.8,518.5 L518.0,522.7 L513.8,526.9 L509.6,522.7 Z"/><path d="M516.0,518.5 L520.2,522.7 L516.0,526.9 L511.8,522.7 Z"/><path d="M518.2,518.5 L522.4,522.7 L518.2,526.9 L514.0,522.7 Z"/><path d="M520.4,518.5 L524.6,522.7 L520.4,526.9 L516.2,522.7 Z"/><path d="M522.6,518.5 L526.8,522.7 L522.6,526.9 L518.4,522.7 Z"/><path d="M524.8,518.5 L529.0,522.7 L524.8,526.9 L520.6,522.7 Z"/><path d="M527.0,518.5 L531.2,522.7 L527.0,526.9 L522.8,522.7 Z"/><path d="M529.2,518.5 L533.4,522.7 L529.2,526.9 L525.0,522.7 Z"/><path d="M531.4,518.5 L535.6,522.7 L531.4,526.9 L527.2,522.7 Z"/><path d="M532.3,507.6 L536.5,511.8 L532.3,516.0 L528.1,511.8 Z"/><path d="M531.5,518.5 L535.7,522.7 L531.5,526.9 L527.3,522.7 Z"/><path d="M534.2,546.0 L538.4,550.2 L534.2,554.4 L530.0,550.2 Z"/><path d="M535.8,567.2 L540.0,571.4 L535.8,575.6 L531.6,571.4 Z"/><path d="M537.0,612.8 L541.2,617.0 L537.0,621.2 L532.8,617.0 Z"/></g>
<path d="M69.5,705.6 H570" stroke="#222" stroke-width="1.5" stroke-dasharray="6.2,4.1"/>
<circle cx="69.5" cy="592.0" r="3.1" fill="#000"/><circle cx="70.8" cy="630.2" r="3.1" fill="#000"/><circle cx="71.8" cy="633.8" r="3.1" fill="#000"/><circle cx="73.4" cy="637.2" r="3.1" fill="#000"/><circle cx="75.1" cy="640.0" r="3.1" fill="#000"/><circle cx="72.8" cy="645.4" r="3.1" fill="#000"/><circle cx="74.2" cy="645.6" r="3.1" fill="#000"/><circle cx="75.7" cy="645.9" r="3.1" fill="#000"/><circle cx="77.1" cy="646.1" r="3.1" fill="#000"/><circle cx="78.5" cy="646.3" r="3.1" fill="#000"/><circle cx="80.0" cy="646.6" r="3.1" fill="#000"/><circle cx="81.4" cy="646.8" r="3.1" fill="#000"/><circle cx="82.8" cy="647.1" r="3.1" fill="#000"/><circle cx="84.3" cy="647.3" r="3.1" fill="#000"/><circle cx="85.7" cy="647.5" r="3.1" fill="#000"/><circle cx="87.1" cy="647.8" r="3.1" fill="#000"/><circle cx="88.6" cy="648.0" r="3.1" fill="#000"/><circle cx="90.0" cy="648.2" r="3.1" fill="#000"/><circle cx="91.4" cy="648.5" r="3.1" fill="#000"/><circle cx="92.9" cy="648.7" r="3.1" fill="#000"/><circle cx="94.3" cy="648.9" r="3.1" fill="#000"/><circle cx="95.7" cy="649.2" r="3.1" fill="#000"/><circle cx="97.2" cy="649.4" r="3.1" fill="#000"/><circle cx="98.6" cy="649.7" r="3.1" fill="#000"/><circle cx="100.0" cy="649.9" r="3.1" fill="#000"/><circle cx="103.2" cy="643.7" r="3.1" fill="#000"/><circle cx="104.7" cy="659.4" r="3.1" fill="#000"/><circle cx="106.3" cy="675.6" r="3.1" fill="#000"/><circle cx="107.7" cy="696.0" r="3.1" fill="#000"/><circle cx="105.7" cy="651.1" r="3.1" fill="#000"/><circle cx="107.1" cy="651.3" r="3.1" fill="#000"/><circle cx="108.6" cy="651.4" r="3.1" fill="#000"/><circle cx="110.0" cy="651.6" r="3.1" fill="#000"/><circle cx="111.4" cy="651.7" r="3.1" fill="#000"/><circle cx="112.9" cy="651.9" r="3.1" fill="#000"/><circle cx="114.3" cy="652.0" r="3.1" fill="#000"/><circle cx="115.7" cy="652.1" r="3.1" fill="#000"/><circle cx="117.2" cy="652.3" r="3.1" fill="#000"/><circle cx="118.6" cy="652.4" r="3.1" fill="#000"/><circle cx="120.0" cy="652.6" r="3.1" fill="#000"/><circle cx="121.5" cy="652.7" r="3.1" fill="#000"/><circle cx="122.9" cy="652.8" r="3.1" fill="#000"/><circle cx="124.3" cy="653.0" r="3.1" fill="#000"/><circle cx="125.8" cy="653.1" r="3.1" fill="#000"/><circle cx="127.2" cy="653.3" r="3.1" fill="#000"/><circle cx="128.6" cy="653.4" r="3.1" fill="#000"/><circle cx="130.1" cy="653.6" r="3.1" fill="#000"/><circle cx="131.5" cy="653.7" r="3.1" fill="#000"/><circle cx="132.9" cy="653.8" r="3.1" fill="#000"/><circle cx="134.4" cy="654.0" r="3.1" fill="#000"/><circle cx="135.8" cy="654.1" r="3.1" fill="#000"/><circle cx="137.2" cy="654.3" r="3.1" fill="#000"/><circle cx="138.7" cy="654.4" r="3.1" fill="#000"/><circle cx="140.1" cy="654.5" r="3.1" fill="#000"/><circle cx="141.5" cy="654.7" r="3.1" fill="#000"/><circle cx="143.0" cy="654.8" r="3.1" fill="#000"/><circle cx="144.4" cy="655.0" r="3.1" fill="#000"/><circle cx="145.9" cy="655.1" r="3.1" fill="#000"/><circle cx="147.3" cy="655.2" r="3.1" fill="#000"/><circle cx="148.7" cy="655.4" r="3.1" fill="#000"/><circle cx="150.2" cy="655.5" r="3.1" fill="#000"/><circle cx="151.6" cy="655.7" r="3.1" fill="#000"/><circle cx="153.0" cy="655.8" r="3.1" fill="#000"/><circle cx="154.5" cy="655.9" r="3.1" fill="#000"/><circle cx="155.9" cy="656.1" r="3.1" fill="#000"/><circle cx="157.3" cy="656.2" r="3.1" fill="#000"/><circle cx="158.8" cy="656.4" r="3.1" fill="#000"/><circle cx="160.2" cy="656.5" r="3.1" fill="#000"/><circle cx="161.6" cy="656.6" r="3.1" fill="#000"/><circle cx="163.1" cy="656.8" r="3.1" fill="#000"/><circle cx="164.5" cy="656.9" r="3.1" fill="#000"/><circle cx="165.9" cy="657.0" r="3.1" fill="#000"/><circle cx="167.4" cy="657.2" r="3.1" fill="#000"/><circle cx="168.8" cy="657.3" r="3.1" fill="#000"/><circle cx="170.2" cy="657.4" r="3.1" fill="#000"/><circle cx="171.7" cy="657.6" r="3.1" fill="#000"/><circle cx="173.1" cy="657.7" r="3.1" fill="#000"/><circle cx="174.5" cy="657.8" r="3.1" fill="#000"/><circle cx="176.0" cy="657.9" r="3.1" fill="#000"/><circle cx="177.4" cy="658.1" r="3.1" fill="#000"/><circle cx="178.8" cy="658.2" r="3.1" fill="#000"/><circle cx="180.3" cy="658.3" r="3.1" fill="#000"/><circle cx="181.7" cy="658.5" r="3.1" fill="#000"/><circle cx="183.1" cy="658.6" r="3.1" fill="#000"/><circle cx="184.6" cy="658.7" r="3.1" fill="#000"/><circle cx="186.0" cy="658.9" r="3.1" fill="#000"/><circle cx="187.4" cy="659.0" r="3.1" fill="#000"/><circle cx="188.9" cy="659.1" r="3.1" fill="#000"/><circle cx="190.3" cy="659.2" r="3.1" fill="#000"/><circle cx="191.7" cy="659.4" r="3.1" fill="#000"/><circle cx="193.2" cy="659.5" r="3.1" fill="#000"/><circle cx="194.6" cy="659.6" r="3.1" fill="#000"/><circle cx="196.0" cy="659.8" r="3.1" fill="#000"/><circle cx="197.5" cy="659.9" r="3.1" fill="#000"/><circle cx="198.9" cy="660.0" r="3.1" fill="#000"/><circle cx="200.3" cy="660.2" r="3.1" fill="#000"/><circle cx="201.8" cy="660.3" r="3.1" fill="#000"/><circle cx="203.2" cy="660.4" r="3.1" fill="#000"/><circle cx="204.6" cy="660.6" r="3.1" fill="#000"/><circle cx="206.1" cy="660.7" r="3.1" fill="#000"/><circle cx="207.5" cy="660.8" r="3.1" fill="#000"/><circle cx="208.9" cy="660.9" r="3.1" fill="#000"/><circle cx="210.4" cy="661.1" r="3.1" fill="#000"/><circle cx="211.8" cy="661.2" r="3.1" fill="#000"/><circle cx="213.2" cy="661.3" r="3.1" fill="#000"/><circle cx="214.7" cy="661.5" r="3.1" fill="#000"/><circle cx="216.1" cy="661.6" r="3.1" fill="#000"/><circle cx="217.6" cy="661.7" r="3.1" fill="#000"/><circle cx="219.0" cy="661.9" r="3.1" fill="#000"/><circle cx="220.4" cy="662.0" r="3.1" fill="#000"/><circle cx="221.9" cy="662.1" r="3.1" fill="#000"/><circle cx="223.3" cy="662.3" r="3.1" fill="#000"/><circle cx="224.7" cy="662.4" r="3.1" fill="#000"/><circle cx="226.2" cy="662.5" r="3.1" fill="#000"/><circle cx="227.6" cy="662.6" r="3.1" fill="#000"/><circle cx="229.0" cy="662.8" r="3.1" fill="#000"/><circle cx="230.5" cy="662.9" r="3.1" fill="#000"/><circle cx="231.9" cy="663.0" r="3.1" fill="#000"/><circle cx="233.3" cy="663.2" r="3.1" fill="#000"/><circle cx="234.8" cy="663.3" r="3.1" fill="#000"/><circle cx="236.2" cy="663.4" r="3.1" fill="#000"/><circle cx="237.6" cy="663.6" r="3.1" fill="#000"/><circle cx="239.1" cy="663.7" r="3.1" fill="#000"/><circle cx="240.5" cy="663.8" r="3.1" fill="#000"/><circle cx="241.9" cy="664.0" r="3.1" fill="#000"/><circle cx="243.4" cy="664.2" r="3.1" fill="#000"/><circle cx="244.8" cy="664.5" r="3.1" fill="#000"/><circle cx="247.3" cy="659.1" r="3.1" fill="#000"/><circle cx="248.4" cy="674.2" r="3.1" fill="#000"/><circle cx="249.9" cy="694.2" r="3.1" fill="#000"/><circle cx="250.7" cy="720.4" r="3.1" fill="#000"/><circle cx="249.6" cy="665.3" r="3.1" fill="#000"/><circle cx="251.0" cy="665.4" r="3.1" fill="#000"/><circle cx="252.5" cy="665.6" r="3.1" fill="#000"/><circle cx="253.9" cy="665.7" r="3.1" fill="#000"/><circle cx="255.3" cy="665.9" r="3.1" fill="#000"/><circle cx="256.8" cy="666.0" r="3.1" fill="#000"/><circle cx="258.2" cy="666.2" r="3.1" fill="#000"/><circle cx="259.6" cy="666.3" r="3.1" fill="#000"/><circle cx="261.1" cy="666.5" r="3.1" fill="#000"/><circle cx="262.5" cy="666.7" r="3.1" fill="#000"/><circle cx="263.9" cy="666.8" r="3.1" fill="#000"/><circle cx="265.4" cy="667.0" r="3.1" fill="#000"/><circle cx="266.8" cy="667.1" r="3.1" fill="#000"/><circle cx="268.2" cy="667.3" r="3.1" fill="#000"/><circle cx="269.7" cy="667.4" r="3.1" fill="#000"/><circle cx="271.1" cy="667.6" r="3.1" fill="#000"/><circle cx="272.5" cy="667.7" r="3.1" fill="#000"/><circle cx="274.0" cy="667.9" r="3.1" fill="#000"/><circle cx="275.4" cy="668.0" r="3.1" fill="#000"/><circle cx="276.8" cy="668.2" r="3.1" fill="#000"/><circle cx="278.3" cy="668.3" r="3.1" fill="#000"/><circle cx="279.7" cy="668.5" r="3.1" fill="#000"/><circle cx="281.1" cy="668.7" r="3.1" fill="#000"/><circle cx="282.6" cy="668.8" r="3.1" fill="#000"/><circle cx="284.0" cy="669.0" r="3.1" fill="#000"/><circle cx="285.5" cy="669.1" r="3.1" fill="#000"/><circle cx="286.9" cy="669.3" r="3.1" fill="#000"/><circle cx="288.3" cy="669.4" r="3.1" fill="#000"/><circle cx="289.8" cy="669.6" r="3.1" fill="#000"/><circle cx="291.2" cy="669.7" r="3.1" fill="#000"/><circle cx="292.6" cy="669.9" r="3.1" fill="#000"/><circle cx="294.1" cy="670.0" r="3.1" fill="#000"/><circle cx="295.5" cy="670.2" r="3.1" fill="#000"/><circle cx="296.9" cy="670.3" r="3.1" fill="#000"/><circle cx="298.4" cy="670.5" r="3.1" fill="#000"/><circle cx="299.8" cy="670.6" r="3.1" fill="#000"/><circle cx="301.2" cy="670.8" r="3.1" fill="#000"/><circle cx="302.7" cy="671.0" r="3.1" fill="#000"/><circle cx="304.1" cy="671.1" r="3.1" fill="#000"/><circle cx="305.5" cy="671.3" r="3.1" fill="#000"/><circle cx="307.0" cy="671.4" r="3.1" fill="#000"/><circle cx="308.4" cy="671.6" r="3.1" fill="#000"/><circle cx="309.8" cy="671.7" r="3.1" fill="#000"/><circle cx="311.3" cy="671.9" r="3.1" fill="#000"/><circle cx="312.7" cy="672.0" r="3.1" fill="#000"/><circle cx="314.1" cy="672.2" r="3.1" fill="#000"/><circle cx="315.6" cy="672.3" r="3.1" fill="#000"/><circle cx="317.0" cy="672.5" r="3.1" fill="#000"/><circle cx="318.4" cy="672.6" r="3.1" fill="#000"/><circle cx="319.9" cy="672.8" r="3.1" fill="#000"/><circle cx="321.3" cy="673.0" r="3.1" fill="#000"/><circle cx="322.7" cy="673.1" r="3.1" fill="#000"/><circle cx="324.2" cy="673.3" r="3.1" fill="#000"/><circle cx="325.6" cy="673.4" r="3.1" fill="#000"/><circle cx="327.0" cy="673.6" r="3.1" fill="#000"/><circle cx="328.5" cy="673.7" r="3.1" fill="#000"/><circle cx="329.9" cy="673.9" r="3.1" fill="#000"/><circle cx="331.3" cy="674.0" r="3.1" fill="#000"/><circle cx="332.8" cy="674.2" r="3.1" fill="#000"/><circle cx="334.2" cy="674.4" r="3.1" fill="#000"/><circle cx="335.6" cy="674.6" r="3.1" fill="#000"/><circle cx="337.1" cy="674.7" r="3.1" fill="#000"/><circle cx="338.5" cy="674.9" r="3.1" fill="#000"/><circle cx="339.9" cy="675.1" r="3.1" fill="#000"/><circle cx="341.4" cy="675.2" r="3.1" fill="#000"/><circle cx="342.8" cy="675.4" r="3.1" fill="#000"/><circle cx="344.2" cy="675.6" r="3.1" fill="#000"/><circle cx="345.7" cy="675.7" r="3.1" fill="#000"/><circle cx="347.1" cy="675.9" r="3.1" fill="#000"/><circle cx="348.5" cy="676.1" r="3.1" fill="#000"/><circle cx="350.0" cy="676.2" r="3.1" fill="#000"/><circle cx="351.4" cy="676.4" r="3.1" fill="#000"/><circle cx="352.8" cy="676.6" r="3.1" fill="#000"/><circle cx="354.3" cy="676.8" r="3.1" fill="#000"/><circle cx="355.7" cy="676.9" r="3.1" fill="#000"/><circle cx="357.2" cy="677.1" r="3.1" fill="#000"/><circle cx="358.6" cy="677.3" r="3.1" fill="#000"/><circle cx="360.0" cy="677.4" r="3.1" fill="#000"/><circle cx="361.5" cy="677.6" r="3.1" fill="#000"/><circle cx="362.9" cy="677.8" r="3.1" fill="#000"/><circle cx="364.3" cy="677.9" r="3.1" fill="#000"/><circle cx="365.8" cy="678.1" r="3.1" fill="#000"/><circle cx="367.2" cy="678.3" r="3.1" fill="#000"/><circle cx="368.6" cy="678.4" r="3.1" fill="#000"/><circle cx="370.1" cy="678.6" r="3.1" fill="#000"/><circle cx="371.5" cy="678.8" r="3.1" fill="#000"/><circle cx="372.9" cy="679.0" r="3.1" fill="#000"/><circle cx="374.4" cy="679.1" r="3.1" fill="#000"/><circle cx="375.8" cy="679.3" r="3.1" fill="#000"/><circle cx="377.2" cy="679.5" r="3.1" fill="#000"/><circle cx="378.7" cy="679.6" r="3.1" fill="#000"/><circle cx="380.1" cy="679.8" r="3.1" fill="#000"/><circle cx="381.5" cy="680.0" r="3.1" fill="#000"/><circle cx="383.0" cy="680.1" r="3.1" fill="#000"/><circle cx="384.4" cy="680.3" r="3.1" fill="#000"/><circle cx="385.8" cy="680.5" r="3.1" fill="#000"/><circle cx="387.3" cy="680.6" r="3.1" fill="#000"/><circle cx="390.6" cy="675.6" r="3.1" fill="#000"/><circle cx="391.9" cy="690.8" r="3.1" fill="#000"/><circle cx="393.2" cy="712.1" r="3.1" fill="#000"/><circle cx="396.1" cy="682.3" r="3.1" fill="#000"/><circle cx="397.5" cy="682.5" r="3.1" fill="#000"/><circle cx="399.0" cy="682.6" r="3.1" fill="#000"/><circle cx="400.4" cy="682.8" r="3.1" fill="#000"/><circle cx="401.8" cy="682.9" r="3.1" fill="#000"/><circle cx="403.3" cy="683.1" r="3.1" fill="#000"/><circle cx="404.7" cy="683.3" r="3.1" fill="#000"/><circle cx="406.1" cy="683.4" r="3.1" fill="#000"/><circle cx="407.6" cy="683.6" r="3.1" fill="#000"/><circle cx="409.0" cy="683.7" r="3.1" fill="#000"/><circle cx="410.4" cy="683.9" r="3.1" fill="#000"/><circle cx="411.9" cy="684.1" r="3.1" fill="#000"/><circle cx="413.3" cy="684.2" r="3.1" fill="#000"/><circle cx="414.7" cy="684.4" r="3.1" fill="#000"/><circle cx="416.2" cy="684.5" r="3.1" fill="#000"/><circle cx="417.6" cy="684.7" r="3.1" fill="#000"/><circle cx="419.0" cy="684.9" r="3.1" fill="#000"/><circle cx="420.5" cy="685.0" r="3.1" fill="#000"/><circle cx="421.9" cy="685.2" r="3.1" fill="#000"/><circle cx="423.3" cy="685.3" r="3.1" fill="#000"/><circle cx="424.8" cy="685.5" r="3.1" fill="#000"/><circle cx="426.2" cy="685.7" r="3.1" fill="#000"/><circle cx="427.6" cy="685.8" r="3.1" fill="#000"/><circle cx="429.1" cy="686.0" r="3.1" fill="#000"/><circle cx="430.5" cy="686.2" r="3.1" fill="#000"/><circle cx="432.0" cy="686.3" r="3.1" fill="#000"/><circle cx="433.4" cy="686.5" r="3.1" fill="#000"/><circle cx="434.8" cy="686.6" r="3.1" fill="#000"/><circle cx="436.3" cy="686.8" r="3.1" fill="#000"/><circle cx="437.7" cy="687.0" r="3.1" fill="#000"/><circle cx="439.1" cy="687.1" r="3.1" fill="#000"/><circle cx="440.6" cy="687.3" r="3.1" fill="#000"/><circle cx="442.0" cy="687.4" r="3.1" fill="#000"/><circle cx="443.4" cy="687.6" r="3.1" fill="#000"/><circle cx="444.9" cy="687.8" r="3.1" fill="#000"/><circle cx="446.3" cy="687.9" r="3.1" fill="#000"/><circle cx="447.7" cy="688.1" r="3.1" fill="#000"/><circle cx="449.2" cy="688.2" r="3.1" fill="#000"/><circle cx="450.6" cy="688.4" r="3.1" fill="#000"/><circle cx="452.0" cy="688.6" r="3.1" fill="#000"/><circle cx="453.5" cy="688.7" r="3.1" fill="#000"/><circle cx="454.9" cy="688.9" r="3.1" fill="#000"/><circle cx="456.3" cy="689.0" r="3.1" fill="#000"/><circle cx="457.8" cy="689.2" r="3.1" fill="#000"/><circle cx="459.2" cy="689.4" r="3.1" fill="#000"/><circle cx="460.6" cy="689.5" r="3.1" fill="#000"/><circle cx="462.1" cy="689.7" r="3.1" fill="#000"/><circle cx="463.5" cy="689.8" r="3.1" fill="#000"/><circle cx="464.9" cy="690.0" r="3.1" fill="#000"/><circle cx="466.4" cy="690.2" r="3.1" fill="#000"/><circle cx="467.8" cy="690.3" r="3.1" fill="#000"/><circle cx="469.2" cy="690.5" r="3.1" fill="#000"/><circle cx="470.7" cy="690.6" r="3.1" fill="#000"/><circle cx="472.1" cy="690.8" r="3.1" fill="#000"/><circle cx="473.5" cy="691.0" r="3.1" fill="#000"/><circle cx="475.0" cy="691.1" r="3.1" fill="#000"/><circle cx="476.4" cy="691.3" r="3.1" fill="#000"/><circle cx="477.8" cy="691.4" r="3.1" fill="#000"/><circle cx="479.3" cy="691.6" r="3.1" fill="#000"/><circle cx="480.7" cy="691.8" r="3.1" fill="#000"/><circle cx="482.1" cy="692.0" r="3.1" fill="#000"/><circle cx="483.6" cy="692.2" r="3.1" fill="#000"/><circle cx="485.0" cy="692.4" r="3.1" fill="#000"/><circle cx="486.4" cy="692.7" r="3.1" fill="#000"/><circle cx="487.9" cy="692.9" r="3.1" fill="#000"/><circle cx="489.3" cy="693.1" r="3.1" fill="#000"/><circle cx="490.7" cy="693.3" r="3.1" fill="#000"/><circle cx="492.2" cy="693.5" r="3.1" fill="#000"/><circle cx="493.6" cy="693.7" r="3.1" fill="#000"/><circle cx="495.0" cy="694.0" r="3.1" fill="#000"/><circle cx="496.5" cy="694.2" r="3.1" fill="#000"/><circle cx="497.9" cy="694.4" r="3.1" fill="#000"/><circle cx="499.3" cy="694.6" r="3.1" fill="#000"/><circle cx="500.8" cy="694.8" r="3.1" fill="#000"/><circle cx="502.2" cy="695.0" r="3.1" fill="#000"/><circle cx="503.7" cy="695.3" r="3.1" fill="#000"/><circle cx="505.1" cy="695.5" r="3.1" fill="#000"/><circle cx="506.5" cy="695.7" r="3.1" fill="#000"/><circle cx="508.0" cy="695.9" r="3.1" fill="#000"/><circle cx="509.4" cy="696.1" r="3.1" fill="#000"/><circle cx="510.8" cy="696.3" r="3.1" fill="#000"/><circle cx="512.3" cy="696.6" r="3.1" fill="#000"/><circle cx="513.7" cy="696.8" r="3.1" fill="#000"/><circle cx="515.1" cy="697.0" r="3.1" fill="#000"/><circle cx="516.6" cy="697.2" r="3.1" fill="#000"/><circle cx="518.0" cy="697.4" r="3.1" fill="#000"/><circle cx="519.4" cy="697.6" r="3.1" fill="#000"/><circle cx="520.9" cy="697.9" r="3.1" fill="#000"/><circle cx="522.3" cy="698.1" r="3.1" fill="#000"/><circle cx="523.7" cy="698.3" r="3.1" fill="#000"/><circle cx="525.2" cy="698.5" r="3.1" fill="#000"/><circle cx="526.6" cy="698.7" r="3.1" fill="#000"/><circle cx="528.0" cy="698.9" r="3.1" fill="#000"/><circle cx="529.5" cy="699.2" r="3.1" fill="#000"/><circle cx="530.9" cy="699.4" r="3.1" fill="#000"/><circle cx="533.7" cy="694.6" r="3.1" fill="#000"/><circle cx="535.4" cy="709.0" r="3.1" fill="#000"/><circle cx="536.8" cy="730.4" r="3.1" fill="#000"/><circle cx="538.0" cy="767.1" r="3.1" fill="#000"/>
<circle cx="70.0" cy="631.4" r="3.1" fill="#ff0000"/><circle cx="71.1" cy="634.4" r="3.1" fill="#ff0000"/><circle cx="72.8" cy="637.7" r="3.1" fill="#ff0000"/><circle cx="74.4" cy="640.5" r="3.1" fill="#ff0000"/><circle cx="71.8" cy="643.6" r="3.1" fill="#ff0000"/><circle cx="72.7" cy="645.7" r="3.1" fill="#ff0000"/><circle cx="74.1" cy="645.9" r="3.1" fill="#ff0000"/><circle cx="75.6" cy="646.2" r="3.1" fill="#ff0000"/><circle cx="77.0" cy="646.4" r="3.1" fill="#ff0000"/><circle cx="78.4" cy="646.6" r="3.1" fill="#ff0000"/><circle cx="79.9" cy="646.9" r="3.1" fill="#ff0000"/><circle cx="81.3" cy="647.1" r="3.1" fill="#ff0000"/><circle cx="82.7" cy="647.4" r="3.1" fill="#ff0000"/><circle cx="84.2" cy="647.6" r="3.1" fill="#ff0000"/><circle cx="85.6" cy="647.8" r="3.1" fill="#ff0000"/><circle cx="87.0" cy="648.1" r="3.1" fill="#ff0000"/><circle cx="88.5" cy="648.3" r="3.1" fill="#ff0000"/><circle cx="89.9" cy="648.5" r="3.1" fill="#ff0000"/><circle cx="91.3" cy="648.8" r="3.1" fill="#ff0000"/><circle cx="92.8" cy="649.0" r="3.1" fill="#ff0000"/><circle cx="94.2" cy="649.2" r="3.1" fill="#ff0000"/><circle cx="95.6" cy="649.5" r="3.1" fill="#ff0000"/><circle cx="97.1" cy="649.7" r="3.1" fill="#ff0000"/><circle cx="98.5" cy="650.0" r="3.1" fill="#ff0000"/><circle cx="99.9" cy="650.2" r="3.1" fill="#ff0000"/><circle cx="102.3" cy="643.1" r="3.1" fill="#ff0000"/><circle cx="103.8" cy="658.8" r="3.1" fill="#ff0000"/><circle cx="105.4" cy="675.0" r="3.1" fill="#ff0000"/><circle cx="106.8" cy="695.4" r="3.1" fill="#ff0000"/><circle cx="105.6" cy="651.4" r="3.1" fill="#ff0000"/><circle cx="107.0" cy="651.6" r="3.1" fill="#ff0000"/><circle cx="108.5" cy="651.7" r="3.1" fill="#ff0000"/><circle cx="109.9" cy="651.9" r="3.1" fill="#ff0000"/><circle cx="111.3" cy="652.0" r="3.1" fill="#ff0000"/><circle cx="112.8" cy="652.2" r="3.1" fill="#ff0000"/><circle cx="114.2" cy="652.3" r="3.1" fill="#ff0000"/><circle cx="115.6" cy="652.4" r="3.1" fill="#ff0000"/><circle cx="117.1" cy="652.6" r="3.1" fill="#ff0000"/><circle cx="118.5" cy="652.7" r="3.1" fill="#ff0000"/><circle cx="119.9" cy="652.9" r="3.1" fill="#ff0000"/><circle cx="121.4" cy="653.0" r="3.1" fill="#ff0000"/><circle cx="122.8" cy="653.1" r="3.1" fill="#ff0000"/><circle cx="124.2" cy="653.3" r="3.1" fill="#ff0000"/><circle cx="125.7" cy="653.4" r="3.1" fill="#ff0000"/><circle cx="127.1" cy="653.6" r="3.1" fill="#ff0000"/><circle cx="128.5" cy="653.7" r="3.1" fill="#ff0000"/><circle cx="130.0" cy="653.9" r="3.1" fill="#ff0000"/><circle cx="131.4" cy="654.0" r="3.1" fill="#ff0000"/><circle cx="132.8" cy="654.1" r="3.1" fill="#ff0000"/><circle cx="134.3" cy="654.3" r="3.1" fill="#ff0000"/><circle cx="135.7" cy="654.4" r="3.1" fill="#ff0000"/><circle cx="137.1" cy="654.6" r="3.1" fill="#ff0000"/><circle cx="138.6" cy="654.7" r="3.1" fill="#ff0000"/><circle cx="140.0" cy="654.8" r="3.1" fill="#ff0000"/><circle cx="141.4" cy="655.0" r="3.1" fill="#ff0000"/><circle cx="142.9" cy="655.1" r="3.1" fill="#ff0000"/><circle cx="144.3" cy="655.3" r="3.1" fill="#ff0000"/><circle cx="145.8" cy="655.4" r="3.1" fill="#ff0000"/><circle cx="147.2" cy="655.5" r="3.1" fill="#ff0000"/><circle cx="148.6" cy="655.7" r="3.1" fill="#ff0000"/><circle cx="150.1" cy="655.8" r="3.1" fill="#ff0000"/><circle cx="151.5" cy="656.0" r="3.1" fill="#ff0000"/><circle cx="152.9" cy="656.1" r="3.1" fill="#ff0000"/><circle cx="154.4" cy="656.2" r="3.1" fill="#ff0000"/><circle cx="155.8" cy="656.4" r="3.1" fill="#ff0000"/><circle cx="157.2" cy="656.5" r="3.1" fill="#ff0000"/><circle cx="158.7" cy="656.7" r="3.1" fill="#ff0000"/><circle cx="160.1" cy="656.8" r="3.1" fill="#ff0000"/><circle cx="161.5" cy="656.9" r="3.1" fill="#ff0000"/><circle cx="163.0" cy="657.1" r="3.1" fill="#ff0000"/><circle cx="164.4" cy="657.2" r="3.1" fill="#ff0000"/><circle cx="165.8" cy="657.3" r="3.1" fill="#ff0000"/><circle cx="167.3" cy="657.5" r="3.1" fill="#ff0000"/><circle cx="168.7" cy="657.6" r="3.1" fill="#ff0000"/><circle cx="170.1" cy="657.7" r="3.1" fill="#ff0000"/><circle cx="171.6" cy="657.9" r="3.1" fill="#ff0000"/><circle cx="173.0" cy="658.0" r="3.1" fill="#ff0000"/><circle cx="174.4" cy="658.1" r="3.1" fill="#ff0000"/><circle cx="175.9" cy="658.2" r="3.1" fill="#ff0000"/><circle cx="177.3" cy="658.4" r="3.1" fill="#ff0000"/><circle cx="178.7" cy="658.5" r="3.1" fill="#ff0000"/><circle cx="180.2" cy="658.6" r="3.1" fill="#ff0000"/><circle cx="181.6" cy="658.8" r="3.1" fill="#ff0000"/><circle cx="183.0" cy="658.9" r="3.1" fill="#ff0000"/><circle cx="184.5" cy="659.0" r="3.1" fill="#ff0000"/><circle cx="185.9" cy="659.2" r="3.1" fill="#ff0000"/><circle cx="187.3" cy="659.3" r="3.1" fill="#ff0000"/><circle cx="188.8" cy="659.4" r="3.1" fill="#ff0000"/><circle cx="190.2" cy="659.5" r="3.1" fill="#ff0000"/><circle cx="191.6" cy="659.7" r="3.1" fill="#ff0000"/><circle cx="193.1" cy="659.8" r="3.1" fill="#ff0000"/><circle cx="194.5" cy="659.9" r="3.1" fill="#ff0000"/><circle cx="195.9" cy="660.1" r="3.1" fill="#ff0000"/><circle cx="197.4" cy="660.2" r="3.1" fill="#ff0000"/><circle cx="198.8" cy="660.3" r="3.1" fill="#ff0000"/><circle cx="200.2" cy="660.5" r="3.1" fill="#ff0000"/><circle cx="201.7" cy="660.6" r="3.1" fill="#ff0000"/><circle cx="203.1" cy="660.7" r="3.1" fill="#ff0000"/><circle cx="204.5" cy="660.9" r="3.1" fill="#ff0000"/><circle cx="206.0" cy="661.0" r="3.1" fill="#ff0000"/><circle cx="207.4" cy="661.1" r="3.1" fill="#ff0000"/><circle cx="208.8" cy="661.2" r="3.1" fill="#ff0000"/><circle cx="210.3" cy="661.4" r="3.1" fill="#ff0000"/><circle cx="211.7" cy="661.5" r="3.1" fill="#ff0000"/><circle cx="213.1" cy="661.6" r="3.1" fill="#ff0000"/><circle cx="214.6" cy="661.8" r="3.1" fill="#ff0000"/><circle cx="216.0" cy="661.9" r="3.1" fill="#ff0000"/><circle cx="217.5" cy="662.0" r="3.1" fill="#ff0000"/><circle cx="218.9" cy="662.2" r="3.1" fill="#ff0000"/><circle cx="220.3" cy="662.3" r="3.1" fill="#ff0000"/><circle cx="221.8" cy="662.4" r="3.1" fill="#ff0000"/><circle cx="223.2" cy="662.6" r="3.1" fill="#ff0000"/><circle cx="224.6" cy="662.7" r="3.1" fill="#ff0000"/><circle cx="226.1" cy="662.8" r="3.1" fill="#ff0000"/><circle cx="227.5" cy="662.9" r="3.1" fill="#ff0000"/><circle cx="228.9" cy="663.1" r="3.1" fill="#ff0000"/><circle cx="230.4" cy="663.2" r="3.1" fill="#ff0000"/><circle cx="231.8" cy="663.3" r="3.1" fill="#ff0000"/><circle cx="233.2" cy="663.5" r="3.1" fill="#ff0000"/><circle cx="234.7" cy="663.6" r="3.1" fill="#ff0000"/><circle cx="236.1" cy="663.7" r="3.1" fill="#ff0000"/><circle cx="237.5" cy="663.9" r="3.1" fill="#ff0000"/><circle cx="239.0" cy="664.0" r="3.1" fill="#ff0000"/><circle cx="240.4" cy="664.1" r="3.1" fill="#ff0000"/><circle cx="241.8" cy="664.3" r="3.1" fill="#ff0000"/><circle cx="243.3" cy="664.5" r="3.1" fill="#ff0000"/><circle cx="244.7" cy="664.8" r="3.1" fill="#ff0000"/><circle cx="246.4" cy="658.5" r="3.1" fill="#ff0000"/><circle cx="247.5" cy="673.6" r="3.1" fill="#ff0000"/><circle cx="249.0" cy="693.6" r="3.1" fill="#ff0000"/><circle cx="249.8" cy="719.8" r="3.1" fill="#ff0000"/><circle cx="249.5" cy="665.6" r="3.1" fill="#ff0000"/><circle cx="250.9" cy="665.7" r="3.1" fill="#ff0000"/><circle cx="252.4" cy="665.9" r="3.1" fill="#ff0000"/><circle cx="253.8" cy="666.0" r="3.1" fill="#ff0000"/><circle cx="255.2" cy="666.2" r="3.1" fill="#ff0000"/><circle cx="256.7" cy="666.3" r="3.1" fill="#ff0000"/><circle cx="258.1" cy="666.5" r="3.1" fill="#ff0000"/><circle cx="259.5" cy="666.6" r="3.1" fill="#ff0000"/><circle cx="261.0" cy="666.8" r="3.1" fill="#ff0000"/><circle cx="262.4" cy="667.0" r="3.1" fill="#ff0000"/><circle cx="263.8" cy="667.1" r="3.1" fill="#ff0000"/><circle cx="265.3" cy="667.3" r="3.1" fill="#ff0000"/><circle cx="266.7" cy="667.4" r="3.1" fill="#ff0000"/><circle cx="268.1" cy="667.6" r="3.1" fill="#ff0000"/><circle cx="269.6" cy="667.7" r="3.1" fill="#ff0000"/><circle cx="271.0" cy="667.9" r="3.1" fill="#ff0000"/><circle cx="272.4" cy="668.0" r="3.1" fill="#ff0000"/><circle cx="273.9" cy="668.2" r="3.1" fill="#ff0000"/><circle cx="275.3" cy="668.3" r="3.1" fill="#ff0000"/><circle cx="276.7" cy="668.5" r="3.1" fill="#ff0000"/><circle cx="278.2" cy="668.6" r="3.1" fill="#ff0000"/><circle cx="279.6" cy="668.8" r="3.1" fill="#ff0000"/><circle cx="281.0" cy="669.0" r="3.1" fill="#ff0000"/><circle cx="282.5" cy="669.1" r="3.1" fill="#ff0000"/><circle cx="283.9" cy="669.3" r="3.1" fill="#ff0000"/><circle cx="285.4" cy="669.4" r="3.1" fill="#ff0000"/><circle cx="286.8" cy="669.6" r="3.1" fill="#ff0000"/><circle cx="288.2" cy="669.7" r="3.1" fill="#ff0000"/><circle cx="289.7" cy="669.9" r="3.1" fill="#ff0000"/><circle cx="291.1" cy="670.0" r="3.1" fill="#ff0000"/><circle cx="292.5" cy="670.2" r="3.1" fill="#ff0000"/><circle cx="294.0" cy="670.3" r="3.1" fill="#ff0000"/><circle cx="295.4" cy="670.5" r="3.1" fill="#ff0000"/><circle cx="296.8" cy="670.6" r="3.1" fill="#ff0000"/><circle cx="298.3" cy="670.8" r="3.1" fill="#ff0000"/><circle cx="299.7" cy="670.9" r="3.1" fill="#ff0000"/><circle cx="301.1" cy="671.1" r="3.1" fill="#ff0000"/><circle cx="302.6" cy="671.3" r="3.1" fill="#ff0000"/><circle cx="304.0" cy="671.4" r="3.1" fill="#ff0000"/><circle cx="305.4" cy="671.6" r="3.1" fill="#ff0000"/><circle cx="306.9" cy="671.7" r="3.1" fill="#ff0000"/><circle cx="308.3" cy="671.9" r="3.1" fill="#ff0000"/><circle cx="309.7" cy="672.0" r="3.1" fill="#ff0000"/><circle cx="311.2" cy="672.2" r="3.1" fill="#ff0000"/><circle cx="312.6" cy="672.3" r="3.1" fill="#ff0000"/><circle cx="314.0" cy="672.5" r="3.1" fill="#ff0000"/><circle cx="315.5" cy="672.6" r="3.1" fill="#ff0000"/><circle cx="316.9" cy="672.8" r="3.1" fill="#ff0000"/><circle cx="318.3" cy="672.9" r="3.1" fill="#ff0000"/><circle cx="319.8" cy="673.1" r="3.1" fill="#ff0000"/><circle cx="321.2" cy="673.3" r="3.1" fill="#ff0000"/><circle cx="322.6" cy="673.4" r="3.1" fill="#ff0000"/><circle cx="324.1" cy="673.6" r="3.1" fill="#ff0000"/><circle cx="325.5" cy="673.7" r="3.1" fill="#ff0000"/><circle cx="326.9" cy="673.9" r="3.1" fill="#ff0000"/><circle cx="328.4" cy="674.0" r="3.1" fill="#ff0000"/><circle cx="329.8" cy="674.2" r="3.1" fill="#ff0000"/><circle cx="331.2" cy="674.3" r="3.1" fill="#ff0000"/><circle cx="332.7" cy="674.5" r="3.1" fill="#ff0000"/><circle cx="334.1" cy="674.7" r="3.1" fill="#ff0000"/><circle cx="335.5" cy="674.9" r="3.1" fill="#ff0000"/><circle cx="337.0" cy="675.0" r="3.1" fill="#ff0000"/><circle cx="338.4" cy="675.2" r="3.1" fill="#ff0000"/><circle cx="339.8" cy="675.4" r="3.1" fill="#ff0000"/><circle cx="341.3" cy="675.5" r="3.1" fill="#ff0000"/><circle cx="342.7" cy="675.7" r="3.1" fill="#ff0000"/><circle cx="344.1" cy="675.9" r="3.1" fill="#ff0000"/><circle cx="345.6" cy="676.0" r="3.1" fill="#ff0000"/><circle cx="347.0" cy="676.2" r="3.1" fill="#ff0000"/><circle cx="348.4" cy="676.4" r="3.1" fill="#ff0000"/><circle cx="349.9" cy="676.5" r="3.1" fill="#ff0000"/><circle cx="351.3" cy="676.7" r="3.1" fill="#ff0000"/><circle cx="352.7" cy="676.9" r="3.1" fill="#ff0000"/><circle cx="354.2" cy="677.1" r="3.1" fill="#ff0000"/><circle cx="355.6" cy="677.2" r="3.1" fill="#ff0000"/><circle cx="357.1" cy="677.4" r="3.1" fill="#ff0000"/><circle cx="358.5" cy="677.6" r="3.1" fill="#ff0000"/><circle cx="359.9" cy="677.7" r="3.1" fill="#ff0000"/><circle cx="361.4" cy="677.9" r="3.1" fill="#ff0000"/><circle cx="362.8" cy="678.1" r="3.1" fill="#ff0000"/><circle cx="364.2" cy="678.2" r="3.1" fill="#ff0000"/><circle cx="365.7" cy="678.4" r="3.1" fill="#ff0000"/><circle cx="367.1" cy="678.6" r="3.1" fill="#ff0000"/><circle cx="368.5" cy="678.7" r="3.1" fill="#ff0000"/><circle cx="370.0" cy="678.9" r="3.1" fill="#ff0000"/><circle cx="371.4" cy="679.1" r="3.1" fill="#ff0000"/><circle cx="372.8" cy="679.3" r="3.1" fill="#ff0000"/><circle cx="374.3" cy="679.4" r="3.1" fill="#ff0000"/><circle cx="375.7" cy="679.6" r="3.1" fill="#ff0000"/><circle cx="377.1" cy="679.8" r="3.1" fill="#ff0000"/><circle cx="378.6" cy="679.9" r="3.1" fill="#ff0000"/><circle cx="380.0" cy="680.1" r="3.1" fill="#ff0000"/><circle cx="381.4" cy="680.3" r="3.1" fill="#ff0000"/><circle cx="382.9" cy="680.4" r="3.1" fill="#ff0000"/><circle cx="384.3" cy="680.6" r="3.1" fill="#ff0000"/><circle cx="385.7" cy="680.8" r="3.1" fill="#ff0000"/><circle cx="387.2" cy="680.9" r="3.1" fill="#ff0000"/><circle cx="389.7" cy="675.0" r="3.1" fill="#ff0000"/><circle cx="391.0" cy="690.2" r="3.1" fill="#ff0000"/><circle cx="392.3" cy="711.5" r="3.1" fill="#ff0000"/><circle cx="396.0" cy="682.6" r="3.1" fill="#ff0000"/><circle cx="397.4" cy="682.8" r="3.1" fill="#ff0000"/><circle cx="398.9" cy="682.9" r="3.1" fill="#ff0000"/><circle cx="400.3" cy="683.1" r="3.1" fill="#ff0000"/><circle cx="401.7" cy="683.2" r="3.1" fill="#ff0000"/><circle cx="403.2" cy="683.4" r="3.1" fill="#ff0000"/><circle cx="404.6" cy="683.6" r="3.1" fill="#ff0000"/><circle cx="406.0" cy="683.7" r="3.1" fill="#ff0000"/><circle cx="407.5" cy="683.9" r="3.1" fill="#ff0000"/><circle cx="408.9" cy="684.0" r="3.1" fill="#ff0000"/><circle cx="410.3" cy="684.2" r="3.1" fill="#ff0000"/><circle cx="411.8" cy="684.4" r="3.1" fill="#ff0000"/><circle cx="413.2" cy="684.5" r="3.1" fill="#ff0000"/><circle cx="414.6" cy="684.7" r="3.1" fill="#ff0000"/><circle cx="416.1" cy="684.8" r="3.1" fill="#ff0000"/><circle cx="417.5" cy="685.0" r="3.1" fill="#ff0000"/><circle cx="418.9" cy="685.2" r="3.1" fill="#ff0000"/><circle cx="420.4" cy="685.3" r="3.1" fill="#ff0000"/><circle cx="421.8" cy="685.5" r="3.1" fill="#ff0000"/><circle cx="423.2" cy="685.6" r="3.1" fill="#ff0000"/><circle cx="424.7" cy="685.8" r="3.1" fill="#ff0000"/><circle cx="426.1" cy="686.0" r="3.1" fill="#ff0000"/><circle cx="427.5" cy="686.1" r="3.1" fill="#ff0000"/><circle cx="429.0" cy="686.3" r="3.1" fill="#ff0000"/><circle cx="430.4" cy="686.5" r="3.1" fill="#ff0000"/><circle cx="431.9" cy="686.6" r="3.1" fill="#ff0000"/><circle cx="433.3" cy="686.8" r="3.1" fill="#ff0000"/><circle cx="434.7" cy="686.9" r="3.1" fill="#ff0000"/><circle cx="436.2" cy="687.1" r="3.1" fill="#ff0000"/><circle cx="437.6" cy="687.3" r="3.1" fill="#ff0000"/><circle cx="439.0" cy="687.4" r="3.1" fill="#ff0000"/><circle cx="440.5" cy="687.6" r="3.1" fill="#ff0000"/><circle cx="441.9" cy="687.7" r="3.1" fill="#ff0000"/><circle cx="443.3" cy="687.9" r="3.1" fill="#ff0000"/><circle cx="444.8" cy="688.1" r="3.1" fill="#ff0000"/><circle cx="446.2" cy="688.2" r="3.1" fill="#ff0000"/><circle cx="447.6" cy="688.4" r="3.1" fill="#ff0000"/><circle cx="449.1" cy="688.5" r="3.1" fill="#ff0000"/><circle cx="450.5" cy="688.7" r="3.1" fill="#ff0000"/><circle cx="451.9" cy="688.9" r="3.1" fill="#ff0000"/><circle cx="453.4" cy="689.0" r="3.1" fill="#ff0000"/><circle cx="454.8" cy="689.2" r="3.1" fill="#ff0000"/><circle cx="456.2" cy="689.3" r="3.1" fill="#ff0000"/><circle cx="457.7" cy="689.5" r="3.1" fill="#ff0000"/><circle cx="459.1" cy="689.7" r="3.1" fill="#ff0000"/><circle cx="460.5" cy="689.8" r="3.1" fill="#ff0000"/><circle cx="462.0" cy="690.0" r="3.1" fill="#ff0000"/><circle cx="463.4" cy="690.1" r="3.1" fill="#ff0000"/><circle cx="464.8" cy="690.3" r="3.1" fill="#ff0000"/><circle cx="466.3" cy="690.5" r="3.1" fill="#ff0000"/><circle cx="467.7" cy="690.6" r="3.1" fill="#ff0000"/><circle cx="469.1" cy="690.8" r="3.1" fill="#ff0000"/><circle cx="470.6" cy="690.9" r="3.1" fill="#ff0000"/><circle cx="472.0" cy="691.1" r="3.1" fill="#ff0000"/><circle cx="473.4" cy="691.3" r="3.1" fill="#ff0000"/><circle cx="474.9" cy="691.4" r="3.1" fill="#ff0000"/><circle cx="476.3" cy="691.6" r="3.1" fill="#ff0000"/><circle cx="477.7" cy="691.7" r="3.1" fill="#ff0000"/><circle cx="479.2" cy="691.9" r="3.1" fill="#ff0000"/><circle cx="480.6" cy="692.1" r="3.1" fill="#ff0000"/><circle cx="482.0" cy="692.3" r="3.1" fill="#ff0000"/><circle cx="483.5" cy="692.5" r="3.1" fill="#ff0000"/><circle cx="484.9" cy="692.7" r="3.1" fill="#ff0000"/><circle cx="486.3" cy="693.0" r="3.1" fill="#ff0000"/><circle cx="487.8" cy="693.2" r="3.1" fill="#ff0000"/><circle cx="489.2" cy="693.4" r="3.1" fill="#ff0000"/><circle cx="490.6" cy="693.6" r="3.1" fill="#ff0000"/><circle cx="492.1" cy="693.8" r="3.1" fill="#ff0000"/><circle cx="493.5" cy="694.0" r="3.1" fill="#ff0000"/><circle cx="494.9" cy="694.3" r="3.1" fill="#ff0000"/><circle cx="496.4" cy="694.5" r="3.1" fill="#ff0000"/><circle cx="497.8" cy="694.7" r="3.1" fill="#ff0000"/><circle cx="499.2" cy="694.9" r="3.1" fill="#ff0000"/><circle cx="500.7" cy="695.1" r="3.1" fill="#ff0000"/><circle cx="502.1" cy="695.3" r="3.1" fill="#ff0000"/><circle cx="503.6" cy="695.6" r="3.1" fill="#ff0000"/><circle cx="505.0" cy="695.8" r="3.1" fill="#ff0000"/><circle cx="506.4" cy="696.0" r="3.1" fill="#ff0000"/><circle cx="507.9" cy="696.2" r="3.1" fill="#ff0000"/><circle cx="509.3" cy="696.4" r="3.1" fill="#ff0000"/><circle cx="510.7" cy="696.6" r="3.1" fill="#ff0000"/><circle cx="512.2" cy="696.9" r="3.1" fill="#ff0000"/><circle cx="513.6" cy="697.1" r="3.1" fill="#ff0000"/><circle cx="515.0" cy="697.3" r="3.1" fill="#ff0000"/><circle cx="516.5" cy="697.5" r="3.1" fill="#ff0000"/><circle cx="517.9" cy="697.7" r="3.1" fill="#ff0000"/><circle cx="519.3" cy="697.9" r="3.1" fill="#ff0000"/><circle cx="520.8" cy="698.2" r="3.1" fill="#ff0000"/><circle cx="522.2" cy="698.4" r="3.1" fill="#ff0000"/><circle cx="523.6" cy="698.6" r="3.1" fill="#ff0000"/><circle cx="525.1" cy="698.8" r="3.1" fill="#ff0000"/><circle cx="526.5" cy="699.0" r="3.1" fill="#ff0000"/><circle cx="527.9" cy="699.2" r="3.1" fill="#ff0000"/><circle cx="529.4" cy="699.5" r="3.1" fill="#ff0000"/><circle cx="530.8" cy="699.7" r="3.1" fill="#ff0000"/><circle cx="532.8" cy="694.0" r="3.1" fill="#ff0000"/><circle cx="534.5" cy="708.4" r="3.1" fill="#ff0000"/><circle cx="535.9" cy="729.8" r="3.1" fill="#ff0000"/><circle cx="537.1" cy="766.5" r="3.1" fill="#ff0000"/>
<path d="M118.7,718 V736" stroke="#444" stroke-width="1.3"/>
<path d="M118.7,710 L121.5,719 L115.9,719 Z" fill="#111"/>
<text x="85" y="760.8" font-family="Liberation Sans, sans-serif" font-size="16.5" fill="#111" textLength="257" lengthAdjust="spacingAndGlyphs">70% of the initial capacity at C/2</text>
<circle cx="96.2" cy="815.7" r="2.6" fill="#000"/><circle cx="96.2" cy="838.7" r="2.6" fill="#ff0000"/>
<text x="122.8" y="818.5" font-family="Liberation Sans, sans-serif" font-size="16.5" fill="#111" textLength="296" lengthAdjust="spacingAndGlyphs">Charge (negative electrode lithiation)</text>
<text x="122.8" y="842.8" font-family="Liberation Sans, sans-serif" font-size="16.5" fill="#111" textLength="335" lengthAdjust="spacingAndGlyphs">Discharge (negative electrode delithiation)</text>
<text x="70" y="882.6" font-family="Liberation Sans, sans-serif" font-size="16.5" text-anchor="middle" fill="#111">0</text>
<text x="140.6" y="882.6" font-family="Liberation Sans, sans-serif" font-size="16.5" text-anchor="middle" fill="#111">50</text>
<text x="211" y="882.6" font-family="Liberation Sans, sans-serif" font-size="16.5" text-anchor="middle" fill="#111">100</text>
<text x="283.1" y="882.6" font-family="Liberation Sans, sans-serif" font-size="16.5" text-anchor="middle" fill="#111">150</text>
<text x="354" y="882.6" font-family="Liberation Sans, sans-serif" font-size="16.5" text-anchor="middle" fill="#111">200</text>
<text x="426.6" y="882.6" font-family="Liberation Sans, sans-serif" font-size="16.5" text-anchor="middle" fill="#111">250</text>
<text x="494.7" y="882.6" font-family="Liberation Sans, sans-serif" font-size="16.5" text-anchor="middle" fill="#111">300</text>
<text x="567.5" y="882.6" font-family="Liberation Sans, sans-serif" font-size="16.5" text-anchor="middle" fill="#111">350</text>
<text x="59.3" y="497.6" font-family="Liberation Sans, sans-serif" font-size="16.5" text-anchor="end" fill="#111">50</text>
<text x="59.3" y="568.8" font-family="Liberation Sans, sans-serif" font-size="16.5" text-anchor="end" fill="#111">40</text>
<text x="59.3" y="640.5" font-family="Liberation Sans, sans-serif" font-size="16.5" text-anchor="end" fill="#111">30</text>
<text x="59.2" y="719.8" font-family="Liberation Sans, sans-serif" font-size="16.5" text-anchor="end" fill="#111">20</text>
<text x="59.2" y="791.9" font-family="Liberation Sans, sans-serif" font-size="16.5" text-anchor="end" fill="#111">10</text>
<text x="57.8" y="864.8" font-family="Liberation Sans, sans-serif" font-size="16.5" text-anchor="end" fill="#111">0</text>
<text x="578.5" y="531.3" font-family="Liberation Sans, sans-serif" font-size="16.5" fill="#111">100</text>
<text x="578.2" y="596.7" font-family="Liberation Sans, sans-serif" font-size="16.5" fill="#111">80</text>
<text x="578.2" y="664.9" font-family="Liberation Sans, sans-serif" font-size="16.5" fill="#111">60</text>
<text x="578.2" y="732.6" font-family="Liberation Sans, sans-serif" font-size="16.5" fill="#111">40</text>
<text x="578.2" y="800.4" font-family="Liberation Sans, sans-serif" font-size="16.5" fill="#111">20</text>
<text x="582.7" y="863.5" font-family="Liberation Sans, sans-serif" font-size="16.5" fill="#111">0</text>
<text x="244.9" y="905.5" font-family="Liberation Sans, sans-serif" font-size="19" fill="#111" textLength="123.3" lengthAdjust="spacingAndGlyphs">Cycle number</text>
<g transform="translate(17.5,762.6) rotate(-90)"><text x="0" y="0" font-family="Liberation Sans, sans-serif" font-size="19" fill="#111" textLength="135.6" lengthAdjust="spacingAndGlyphs">Capacity (mAh)</text></g>
<g transform="translate(625.5,743.4) rotate(-90)"><text x="0" y="0" font-family="Liberation Sans, sans-serif" font-size="19" fill="#111" textLength="119.7" lengthAdjust="spacingAndGlyphs">Efficiency (%)</text></g>
<text x="9.5" y="892.7" font-family="Liberation Sans, sans-serif" font-size="26" font-weight="bold" fill="#111">b)</text>
</svg>
</body></html>
